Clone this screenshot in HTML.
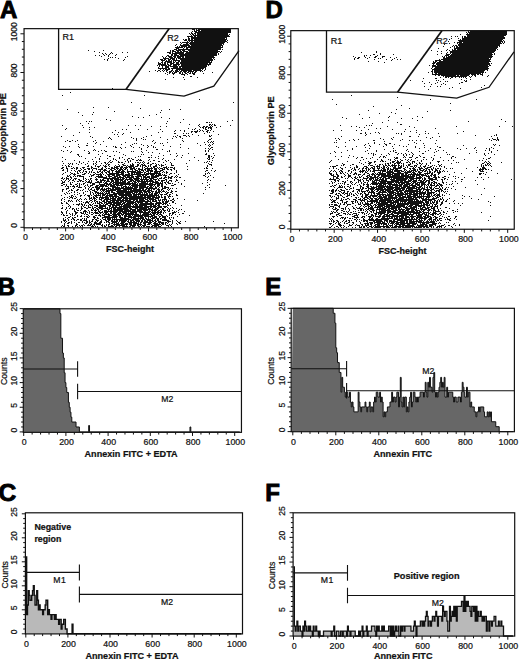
<!DOCTYPE html>
<html><head><meta charset="utf-8"><style>html,body{margin:0;padding:0;background:#fff;width:520px;height:660px;overflow:hidden}svg{display:block}text{stroke:#111;stroke-width:0.22px}</style></head>
<body>
<svg width="520" height="660" viewBox="0 0 520 660" font-family='"Liberation Sans", sans-serif' font-size="8" fill="#111">
<rect width="520" height="660" fill="#fff"/>
<path d="M23.3 431.9 23.7 308.8 59.15 308.8 59.15 308.8 59.99 308.8 59.99 313.58 60.84 313.58 60.84 338.23 62.52 338.23 62.52 353.02 63.37 353.02 63.37 357.95 64.21 357.95 64.21 372.74 65.06 372.74 65.06 382.6 65.9 382.6 65.9 387.53 66.74 387.53 66.74 392.46 68.43 392.46 68.43 402.32 69.28 402.32 69.28 407.25 70.12 407.25 70.12 412.18 70.96 412.18 70.96 417.11 71.81 417.11 71.81 422.04 76.03 422.04 76.03 426.97 79.4 426.97 79.4 431.9 88.69 431.9 88.69 425.49 89.53 425.49 89.53 431.9 189.97 431.9 189.97 426.97 190.81 426.97 190.81 431.9 239.76 431.9 239.76 431.9Z" fill="#676767" stroke="none"/>
<path d="M23.7 308.8 59.15 308.8 59.15 308.8 59.99 308.8 59.99 313.58 60.84 313.58 60.84 338.23 62.52 338.23 62.52 353.02 63.37 353.02 63.37 357.95 64.21 357.95 64.21 372.74 65.06 372.74 65.06 382.6 65.9 382.6 65.9 387.53 66.74 387.53 66.74 392.46 68.43 392.46 68.43 402.32 69.28 402.32 69.28 407.25 70.12 407.25 70.12 412.18 70.96 412.18 70.96 417.11 71.81 417.11 71.81 422.04 76.03 422.04 76.03 426.97 79.4 426.97 79.4 431.9 88.69 431.9 88.69 425.49 89.53 425.49 89.53 431.9 189.97 431.9 189.97 426.97 190.81 426.97 190.81 431.9 239.76 431.9" fill="none" stroke="#111" stroke-width="1.0" stroke-linejoin="miter"/>
<rect x="23.3" y="308.8" width="218.15" height="123.55" fill="none" stroke="#111" stroke-width="1.2"/>
<path d="M23.7 432.35v3.6M32.14 432.35v2.2M40.58 432.35v2.2M49.02 432.35v2.2M57.46 432.35v2.2M65.9 432.35v3.6M74.34 432.35v2.2M82.78 432.35v2.2M91.22 432.35v2.2M99.66 432.35v2.2M108.1 432.35v3.6M116.54 432.35v2.2M124.98 432.35v2.2M133.42 432.35v2.2M141.86 432.35v2.2M150.3 432.35v3.6M158.74 432.35v2.2M167.18 432.35v2.2M175.62 432.35v2.2M184.06 432.35v2.2M192.5 432.35v3.6M200.94 432.35v2.2M209.38 432.35v2.2M217.82 432.35v2.2M226.26 432.35v2.2M234.7 432.35v3.6" stroke="#111" stroke-width="1" fill="none"/>
<text x="24.3" y="444.6" text-anchor="middle" font-size="8.8">0</text>
<text x="66.5" y="444.6" text-anchor="middle" font-size="8.8">200</text>
<text x="108.7" y="444.6" text-anchor="middle" font-size="8.8">400</text>
<text x="150.9" y="444.6" text-anchor="middle" font-size="8.8">600</text>
<text x="193.1" y="444.6" text-anchor="middle" font-size="8.8">800</text>
<text x="235.3" y="444.6" text-anchor="middle" font-size="8.8">1000</text>
<path d="M23.3 431.9h-3.6M23.3 426.97h-2.2M23.3 422.04h-2.2M23.3 417.11h-2.2M23.3 412.18h-2.2M23.3 407.25h-3.6M23.3 402.32h-2.2M23.3 397.39h-2.2M23.3 392.46h-2.2M23.3 387.53h-2.2M23.3 382.6h-3.6M23.3 377.67h-2.2M23.3 372.74h-2.2M23.3 367.81h-2.2M23.3 362.88h-2.2M23.3 357.95h-3.6M23.3 353.02h-2.2M23.3 348.09h-2.2M23.3 343.16h-2.2M23.3 338.23h-2.2M23.3 333.3h-3.6M23.3 328.37h-2.2M23.3 323.44h-2.2M23.3 318.51h-2.2M23.3 313.58h-2.2M23.3 308.65h-3.6" stroke="#111" stroke-width="1" fill="none"/>
<text transform="translate(17.2 430.1) rotate(-90)" text-anchor="middle" font-size="8.5">0</text>
<text transform="translate(17.2 405.45) rotate(-90)" text-anchor="middle" font-size="8.5">5</text>
<text transform="translate(17.2 380.8) rotate(-90)" text-anchor="middle" font-size="8.5">10</text>
<text transform="translate(17.2 356.15) rotate(-90)" text-anchor="middle" font-size="8.5">15</text>
<text transform="translate(17.2 331.5) rotate(-90)" text-anchor="middle" font-size="8.5">20</text>
<text transform="translate(17.2 306.85) rotate(-90)" text-anchor="middle" font-size="8.5">25</text>
<text x="131.07" y="457" text-anchor="middle" font-size="9.1" font-weight="bold">Annexin FITC + EDTA</text>
<text transform="translate(6.7 371.27) rotate(-90)" text-anchor="middle" font-size="8.7">Counts</text>
<text x="-2.2" y="295" font-size="24" font-weight="bold" style="fill:#000;stroke:#000;stroke-width:0.9px">B</text>
<path d="M23.3 369H77.6M77.6 361.2v15.6" stroke="#111" stroke-width="1.1" fill="none"/>
<path d="M77.6 391.5H241.45M77.6 383.7v15.6" stroke="#111" stroke-width="1.1" fill="none"/>
<text x="167.3" y="401.8" text-anchor="middle" font-size="8.7">M2</text>
<path d="M291.2 431.6 292.8 308.3 333.22 308.3 333.22 313.28 334.94 313.28 334.94 323.14 335.8 323.14 335.8 347.79 336.66 347.79 336.66 352.72 337.52 352.72 337.52 362.58 339.24 362.58 339.24 372.44 340.96 372.44 340.96 392.16 341.82 392.16 341.82 377.37 342.68 377.37 342.68 387.23 344.4 387.23 344.4 392.16 345.26 392.16 345.26 397.09 346.12 397.09 346.12 392.16 347.84 392.16 347.84 397.09 349.56 397.09 349.56 392.16 350.42 392.16 350.42 402.02 351.28 402.02 351.28 406.95 352.14 406.95 352.14 402.02 353 402.02 353 406.95 353.86 406.95 353.86 411.88 358.16 411.88 358.16 392.16 359.02 392.16 359.02 402.02 359.88 402.02 359.88 406.95 360.74 406.95 360.74 411.88 361.6 411.88 361.6 406.95 365.04 406.95 365.04 402.02 365.9 402.02 365.9 406.95 366.76 406.95 366.76 411.88 367.62 411.88 367.62 406.95 369.34 406.95 369.34 402.02 370.2 402.02 370.2 411.88 371.06 411.88 371.06 406.95 372.78 406.95 372.78 411.88 373.64 411.88 373.64 402.02 374.5 402.02 374.5 397.09 375.36 397.09 375.36 402.02 376.22 402.02 376.22 392.16 377.94 392.16 377.94 397.09 379.66 397.09 379.66 392.16 380.52 392.16 380.52 402.02 381.38 402.02 381.38 397.09 382.24 397.09 382.24 402.02 383.1 402.02 383.1 416.81 383.96 416.81 383.96 411.88 384.82 411.88 384.82 416.81 385.68 416.81 385.68 411.88 387.4 411.88 387.4 406.95 389.98 406.95 389.98 402.02 391.7 402.02 391.7 392.16 392.56 392.16 392.56 402.02 393.42 402.02 393.42 397.09 395.14 397.09 395.14 402.02 396 402.02 396 397.09 396.86 397.09 396.86 392.16 398.58 392.16 398.58 406.95 399.44 406.95 399.44 397.09 400.3 397.09 400.3 377.37 401.16 377.37 401.16 402.02 402.02 402.02 402.02 406.95 402.88 406.95 402.88 397.09 403.74 397.09 403.74 406.95 404.6 406.95 404.6 397.09 406.32 397.09 406.32 411.88 407.18 411.88 407.18 406.95 408.04 406.95 408.04 411.88 408.9 411.88 408.9 402.02 409.76 402.02 409.76 397.09 410.62 397.09 410.62 392.16 411.48 392.16 411.48 406.95 412.34 406.95 412.34 402.02 413.2 402.02 413.2 392.16 414.92 392.16 414.92 397.09 415.78 397.09 415.78 402.02 416.64 402.02 416.64 397.09 417.5 397.09 417.5 402.02 418.36 402.02 418.36 397.09 420.08 397.09 420.08 392.16 423.52 392.16 423.52 397.09 424.38 397.09 424.38 392.16 425.24 392.16 425.24 382.3 426.1 382.3 426.1 392.16 426.96 392.16 426.96 397.09 427.82 397.09 427.82 382.3 428.68 382.3 428.68 387.23 429.54 387.23 429.54 377.37 430.4 377.37 430.4 387.23 432.12 387.23 432.12 392.16 432.98 392.16 432.98 377.37 433.84 377.37 433.84 372.44 434.7 372.44 434.7 392.16 435.56 392.16 435.56 397.09 436.42 397.09 436.42 392.16 437.28 392.16 437.28 397.09 438.14 397.09 438.14 392.16 439 392.16 439 387.23 439.86 387.23 439.86 382.3 440.72 382.3 440.72 377.37 441.58 377.37 441.58 387.23 442.44 387.23 442.44 382.3 443.3 382.3 443.3 387.23 444.16 387.23 444.16 377.37 445.02 377.37 445.02 397.09 446.74 397.09 446.74 387.23 447.6 387.23 447.6 397.09 448.46 397.09 448.46 392.16 452.76 392.16 452.76 397.09 453.62 397.09 453.62 402.02 454.48 402.02 454.48 397.09 456.2 397.09 456.2 402.02 457.92 402.02 457.92 397.09 460.5 397.09 460.5 402.02 461.36 402.02 461.36 392.16 462.22 392.16 462.22 382.3 463.08 382.3 463.08 387.23 463.94 387.23 463.94 392.16 464.8 392.16 464.8 397.09 466.52 397.09 466.52 387.23 467.38 387.23 467.38 397.09 468.24 397.09 468.24 392.16 469.96 392.16 469.96 406.95 470.82 406.95 470.82 402.02 471.68 402.02 471.68 406.95 474.26 406.95 474.26 411.88 475.98 411.88 475.98 416.81 476.84 416.81 476.84 411.88 478.56 411.88 478.56 406.95 479.42 406.95 479.42 411.88 480.28 411.88 480.28 406.95 483.72 406.95 483.72 411.88 484.58 411.88 484.58 416.81 487.16 416.81 487.16 411.88 488.02 411.88 488.02 416.81 488.88 416.81 488.88 411.88 489.74 411.88 489.74 416.81 490.6 416.81 490.6 411.88 491.46 411.88 491.46 421.74 495.76 421.74 495.76 426.67 499.2 426.67 499.2 431.6 512.96 431.6 512.96 431.6Z" fill="#676767" stroke="none"/>
<path d="M292.8 308.3 333.22 308.3 333.22 313.28 334.94 313.28 334.94 323.14 335.8 323.14 335.8 347.79 336.66 347.79 336.66 352.72 337.52 352.72 337.52 362.58 339.24 362.58 339.24 372.44 340.96 372.44 340.96 392.16 341.82 392.16 341.82 377.37 342.68 377.37 342.68 387.23 344.4 387.23 344.4 392.16 345.26 392.16 345.26 397.09 346.12 397.09 346.12 392.16 347.84 392.16 347.84 397.09 349.56 397.09 349.56 392.16 350.42 392.16 350.42 402.02 351.28 402.02 351.28 406.95 352.14 406.95 352.14 402.02 353 402.02 353 406.95 353.86 406.95 353.86 411.88 358.16 411.88 358.16 392.16 359.02 392.16 359.02 402.02 359.88 402.02 359.88 406.95 360.74 406.95 360.74 411.88 361.6 411.88 361.6 406.95 365.04 406.95 365.04 402.02 365.9 402.02 365.9 406.95 366.76 406.95 366.76 411.88 367.62 411.88 367.62 406.95 369.34 406.95 369.34 402.02 370.2 402.02 370.2 411.88 371.06 411.88 371.06 406.95 372.78 406.95 372.78 411.88 373.64 411.88 373.64 402.02 374.5 402.02 374.5 397.09 375.36 397.09 375.36 402.02 376.22 402.02 376.22 392.16 377.94 392.16 377.94 397.09 379.66 397.09 379.66 392.16 380.52 392.16 380.52 402.02 381.38 402.02 381.38 397.09 382.24 397.09 382.24 402.02 383.1 402.02 383.1 416.81 383.96 416.81 383.96 411.88 384.82 411.88 384.82 416.81 385.68 416.81 385.68 411.88 387.4 411.88 387.4 406.95 389.98 406.95 389.98 402.02 391.7 402.02 391.7 392.16 392.56 392.16 392.56 402.02 393.42 402.02 393.42 397.09 395.14 397.09 395.14 402.02 396 402.02 396 397.09 396.86 397.09 396.86 392.16 398.58 392.16 398.58 406.95 399.44 406.95 399.44 397.09 400.3 397.09 400.3 377.37 401.16 377.37 401.16 402.02 402.02 402.02 402.02 406.95 402.88 406.95 402.88 397.09 403.74 397.09 403.74 406.95 404.6 406.95 404.6 397.09 406.32 397.09 406.32 411.88 407.18 411.88 407.18 406.95 408.04 406.95 408.04 411.88 408.9 411.88 408.9 402.02 409.76 402.02 409.76 397.09 410.62 397.09 410.62 392.16 411.48 392.16 411.48 406.95 412.34 406.95 412.34 402.02 413.2 402.02 413.2 392.16 414.92 392.16 414.92 397.09 415.78 397.09 415.78 402.02 416.64 402.02 416.64 397.09 417.5 397.09 417.5 402.02 418.36 402.02 418.36 397.09 420.08 397.09 420.08 392.16 423.52 392.16 423.52 397.09 424.38 397.09 424.38 392.16 425.24 392.16 425.24 382.3 426.1 382.3 426.1 392.16 426.96 392.16 426.96 397.09 427.82 397.09 427.82 382.3 428.68 382.3 428.68 387.23 429.54 387.23 429.54 377.37 430.4 377.37 430.4 387.23 432.12 387.23 432.12 392.16 432.98 392.16 432.98 377.37 433.84 377.37 433.84 372.44 434.7 372.44 434.7 392.16 435.56 392.16 435.56 397.09 436.42 397.09 436.42 392.16 437.28 392.16 437.28 397.09 438.14 397.09 438.14 392.16 439 392.16 439 387.23 439.86 387.23 439.86 382.3 440.72 382.3 440.72 377.37 441.58 377.37 441.58 387.23 442.44 387.23 442.44 382.3 443.3 382.3 443.3 387.23 444.16 387.23 444.16 377.37 445.02 377.37 445.02 397.09 446.74 397.09 446.74 387.23 447.6 387.23 447.6 397.09 448.46 397.09 448.46 392.16 452.76 392.16 452.76 397.09 453.62 397.09 453.62 402.02 454.48 402.02 454.48 397.09 456.2 397.09 456.2 402.02 457.92 402.02 457.92 397.09 460.5 397.09 460.5 402.02 461.36 402.02 461.36 392.16 462.22 392.16 462.22 382.3 463.08 382.3 463.08 387.23 463.94 387.23 463.94 392.16 464.8 392.16 464.8 397.09 466.52 397.09 466.52 387.23 467.38 387.23 467.38 397.09 468.24 397.09 468.24 392.16 469.96 392.16 469.96 406.95 470.82 406.95 470.82 402.02 471.68 402.02 471.68 406.95 474.26 406.95 474.26 411.88 475.98 411.88 475.98 416.81 476.84 416.81 476.84 411.88 478.56 411.88 478.56 406.95 479.42 406.95 479.42 411.88 480.28 411.88 480.28 406.95 483.72 406.95 483.72 411.88 484.58 411.88 484.58 416.81 487.16 416.81 487.16 411.88 488.02 411.88 488.02 416.81 488.88 416.81 488.88 411.88 489.74 411.88 489.74 416.81 490.6 416.81 490.6 411.88 491.46 411.88 491.46 421.74 495.76 421.74 495.76 426.67 499.2 426.67 499.2 431.6 512.96 431.6" fill="none" stroke="#111" stroke-width="1.0" stroke-linejoin="miter"/>
<rect x="291.2" y="308.3" width="223.2" height="123.4" fill="none" stroke="#111" stroke-width="1.2"/>
<path d="M292.8 431.7v3.6M301.4 431.7v2.2M310 431.7v2.2M318.6 431.7v2.2M327.2 431.7v2.2M335.8 431.7v3.6M344.4 431.7v2.2M353 431.7v2.2M361.6 431.7v2.2M370.2 431.7v2.2M378.8 431.7v3.6M387.4 431.7v2.2M396 431.7v2.2M404.6 431.7v2.2M413.2 431.7v2.2M421.8 431.7v3.6M430.4 431.7v2.2M439 431.7v2.2M447.6 431.7v2.2M456.2 431.7v2.2M464.8 431.7v3.6M473.4 431.7v2.2M482 431.7v2.2M490.6 431.7v2.2M499.2 431.7v2.2M507.8 431.7v3.6" stroke="#111" stroke-width="1" fill="none"/>
<text x="293.4" y="444.6" text-anchor="middle" font-size="8.8">0</text>
<text x="336.4" y="444.6" text-anchor="middle" font-size="8.8">200</text>
<text x="379.4" y="444.6" text-anchor="middle" font-size="8.8">400</text>
<text x="422.4" y="444.6" text-anchor="middle" font-size="8.8">600</text>
<text x="465.4" y="444.6" text-anchor="middle" font-size="8.8">800</text>
<text x="508.4" y="444.6" text-anchor="middle" font-size="8.8">1000</text>
<path d="M291.2 431.6h-3.6M291.2 426.67h-2.2M291.2 421.74h-2.2M291.2 416.81h-2.2M291.2 411.88h-2.2M291.2 406.95h-3.6M291.2 402.02h-2.2M291.2 397.09h-2.2M291.2 392.16h-2.2M291.2 387.23h-2.2M291.2 382.3h-3.6M291.2 377.37h-2.2M291.2 372.44h-2.2M291.2 367.51h-2.2M291.2 362.58h-2.2M291.2 357.65h-3.6M291.2 352.72h-2.2M291.2 347.79h-2.2M291.2 342.86h-2.2M291.2 337.93h-2.2M291.2 333h-3.6M291.2 328.07h-2.2M291.2 323.14h-2.2M291.2 318.21h-2.2M291.2 313.28h-2.2M291.2 308.35h-3.6" stroke="#111" stroke-width="1" fill="none"/>
<text transform="translate(284.8 429.8) rotate(-90)" text-anchor="middle" font-size="8.5">0</text>
<text transform="translate(284.8 405.15) rotate(-90)" text-anchor="middle" font-size="8.5">5</text>
<text transform="translate(284.8 380.5) rotate(-90)" text-anchor="middle" font-size="8.5">10</text>
<text transform="translate(284.8 355.85) rotate(-90)" text-anchor="middle" font-size="8.5">15</text>
<text transform="translate(284.8 331.2) rotate(-90)" text-anchor="middle" font-size="8.5">20</text>
<text transform="translate(284.8 306.55) rotate(-90)" text-anchor="middle" font-size="8.5">25</text>
<text x="402.8" y="457" text-anchor="middle" font-size="9.1" font-weight="bold">Annexin FITC</text>
<text transform="translate(274.2 370.98) rotate(-90)" text-anchor="middle" font-size="8.7">Counts</text>
<text x="265.3" y="295.2" font-size="24" font-weight="bold" style="fill:#000;stroke:#000;stroke-width:0.9px">E</text>
<path d="M291.2 368.8H346.6M346.6 361v15.6" stroke="#111" stroke-width="1.1" fill="none"/>
<path d="M346.6 390.8H514.4M346.6 383v15.6" stroke="#111" stroke-width="1.1" fill="none"/>
<text x="428.3" y="374.4" text-anchor="middle" font-size="8.7">M2</text>
<path d="M25.4 633.8 25.8 557 26.64 557 26.64 614.6 27.48 614.6 27.48 605 28.33 605 28.33 590.6 29.17 590.6 29.17 595.4 30.01 595.4 30.01 600.2 31.69 600.2 31.69 595.4 32.54 595.4 32.54 590.6 33.38 590.6 33.38 585.8 34.22 585.8 34.22 595.4 35.06 595.4 35.06 605 36.75 605 36.75 590.6 37.59 590.6 37.59 600.2 38.43 600.2 38.43 609.8 39.27 609.8 39.27 605 40.11 605 40.11 609.8 42.64 609.8 42.64 614.6 43.48 614.6 43.48 609.8 45.17 609.8 45.17 605 46.01 605 46.01 600.2 47.69 600.2 47.69 614.6 48.53 614.6 48.53 609.8 49.38 609.8 49.38 614.6 51.06 614.6 51.06 619.4 51.9 619.4 51.9 614.6 54.43 614.6 54.43 619.4 55.27 619.4 55.27 614.6 56.11 614.6 56.11 619.4 58.64 619.4 58.64 624.2 59.48 624.2 59.48 619.4 61.16 619.4 61.16 629 62.01 629 62.01 624.2 63.69 624.2 63.69 619.4 65.37 619.4 65.37 629 67.06 629 67.06 633.8 72.11 633.8 72.11 624.2 72.95 624.2 72.95 633.8 241.35 633.8 241.35 633.8Z" fill="#b9b9b9" stroke="none"/>
<path d="M25.8 557 26.64 557 26.64 614.6 27.48 614.6 27.48 605 28.33 605 28.33 590.6 29.17 590.6 29.17 595.4 30.01 595.4 30.01 600.2 31.69 600.2 31.69 595.4 32.54 595.4 32.54 590.6 33.38 590.6 33.38 585.8 34.22 585.8 34.22 595.4 35.06 595.4 35.06 605 36.75 605 36.75 590.6 37.59 590.6 37.59 600.2 38.43 600.2 38.43 609.8 39.27 609.8 39.27 605 40.11 605 40.11 609.8 42.64 609.8 42.64 614.6 43.48 614.6 43.48 609.8 45.17 609.8 45.17 605 46.01 605 46.01 600.2 47.69 600.2 47.69 614.6 48.53 614.6 48.53 609.8 49.38 609.8 49.38 614.6 51.06 614.6 51.06 619.4 51.9 619.4 51.9 614.6 54.43 614.6 54.43 619.4 55.27 619.4 55.27 614.6 56.11 614.6 56.11 619.4 58.64 619.4 58.64 624.2 59.48 624.2 59.48 619.4 61.16 619.4 61.16 629 62.01 629 62.01 624.2 63.69 624.2 63.69 619.4 65.37 619.4 65.37 629 67.06 629 67.06 633.8 72.11 633.8 72.11 624.2 72.95 624.2 72.95 633.8 241.35 633.8" fill="none" stroke="#111" stroke-width="1.4" stroke-linejoin="miter"/>
<rect x="25.4" y="512.8" width="217.1" height="121.1" fill="none" stroke="#111" stroke-width="1.2"/>
<path d="M25.8 633.9v3.6M34.22 633.9v2.2M42.64 633.9v2.2M51.06 633.9v2.2M59.48 633.9v2.2M67.9 633.9v3.6M76.32 633.9v2.2M84.74 633.9v2.2M93.16 633.9v2.2M101.58 633.9v2.2M110 633.9v3.6M118.42 633.9v2.2M126.84 633.9v2.2M135.26 633.9v2.2M143.68 633.9v2.2M152.1 633.9v3.6M160.52 633.9v2.2M168.94 633.9v2.2M177.36 633.9v2.2M185.78 633.9v2.2M194.2 633.9v3.6M202.62 633.9v2.2M211.04 633.9v2.2M219.46 633.9v2.2M227.88 633.9v2.2M236.3 633.9v3.6" stroke="#111" stroke-width="1" fill="none"/>
<text x="26.4" y="647" text-anchor="middle" font-size="8.8">0</text>
<text x="68.5" y="647" text-anchor="middle" font-size="8.8">200</text>
<text x="110.6" y="647" text-anchor="middle" font-size="8.8">400</text>
<text x="152.7" y="647" text-anchor="middle" font-size="8.8">600</text>
<text x="194.8" y="647" text-anchor="middle" font-size="8.8">800</text>
<text x="236.9" y="647" text-anchor="middle" font-size="8.8">1000</text>
<path d="M25.4 633.8h-3.6M25.4 629h-2.2M25.4 624.2h-2.2M25.4 619.4h-2.2M25.4 614.6h-2.2M25.4 609.8h-3.6M25.4 605h-2.2M25.4 600.2h-2.2M25.4 595.4h-2.2M25.4 590.6h-2.2M25.4 585.8h-3.6M25.4 581h-2.2M25.4 576.2h-2.2M25.4 571.4h-2.2M25.4 566.6h-2.2M25.4 561.8h-3.6M25.4 557h-2.2M25.4 552.2h-2.2M25.4 547.4h-2.2M25.4 542.6h-2.2M25.4 537.8h-3.6M25.4 533h-2.2M25.4 528.2h-2.2M25.4 523.4h-2.2M25.4 518.6h-2.2M25.4 513.8h-3.6" stroke="#111" stroke-width="1" fill="none"/>
<text transform="translate(17.2 632) rotate(-90)" text-anchor="middle" font-size="8.5">0</text>
<text transform="translate(17.2 608) rotate(-90)" text-anchor="middle" font-size="8.5">5</text>
<text transform="translate(17.2 584) rotate(-90)" text-anchor="middle" font-size="8.5">10</text>
<text transform="translate(17.2 560) rotate(-90)" text-anchor="middle" font-size="8.5">15</text>
<text transform="translate(17.2 536) rotate(-90)" text-anchor="middle" font-size="8.5">20</text>
<text transform="translate(17.2 512) rotate(-90)" text-anchor="middle" font-size="8.5">25</text>
<text x="131.95" y="659" text-anchor="middle" font-size="9.1" font-weight="bold">Annexin FITC + EDTA</text>
<text transform="translate(7.6 574.8) rotate(-90)" text-anchor="middle" font-size="8.7">Counts</text>
<text x="-1.4" y="501.2" font-size="24.5" font-weight="bold" style="fill:#000;stroke:#000;stroke-width:0.9px">C</text>
<path d="M25.4 572.4H79.4M79.4 564.4v16" stroke="#111" stroke-width="1.1" fill="none"/>
<path d="M79.4 594.4H242.5M79.4 586.4v16" stroke="#111" stroke-width="1.1" fill="none"/>
<text x="59.8" y="583.1" text-anchor="middle" font-size="8.7" letter-spacing="0.6">M1</text>
<text x="167.0" y="604.6" text-anchor="middle" font-size="8.7">M2</text>
<text x="34.4" y="530.3" font-size="8.8" font-weight="bold">Negative</text>
<text x="34.4" y="541.5" font-size="8.8" font-weight="bold">region</text>
<path d="M293.1 636 293.5 566.98 294.36 566.98 294.36 626.14 295.21 626.14 295.21 631.07 296.07 631.07 296.07 626.14 296.93 626.14 296.93 621.21 297.79 621.21 297.79 631.07 298.64 631.07 298.64 626.14 300.36 626.14 300.36 631.07 302.07 631.07 302.07 636 302.93 636 302.93 626.14 303.79 626.14 303.79 631.07 304.64 631.07 304.64 621.21 305.5 621.21 305.5 626.14 306.36 626.14 306.36 631.07 308.07 631.07 308.07 626.14 308.93 626.14 308.93 631.07 309.79 631.07 309.79 626.14 310.64 626.14 310.64 631.07 312.36 631.07 312.36 636 313.22 636 313.22 626.14 314.07 626.14 314.07 631.07 315.79 631.07 315.79 626.14 316.64 626.14 316.64 631.07 318.36 631.07 318.36 636 319.22 636 319.22 631.07 320.07 631.07 320.07 636 323.5 636 323.5 631.07 331.22 631.07 331.22 636 332.07 636 332.07 631.07 333.79 631.07 333.79 626.14 334.65 626.14 334.65 636 336.36 636 336.36 631.07 338.93 631.07 338.93 636 340.65 636 340.65 631.07 342.36 631.07 342.36 636 343.22 636 343.22 631.07 346.65 631.07 346.65 636 347.5 636 347.5 626.14 348.36 626.14 348.36 631.07 350.08 631.07 350.08 636 350.93 636 350.93 631.07 355.22 631.07 355.22 636 358.65 636 358.65 631.07 359.5 631.07 359.5 636 360.36 636 360.36 631.07 362.08 631.07 362.08 626.14 362.93 626.14 362.93 636 363.79 636 363.79 631.07 366.36 631.07 366.36 626.14 367.22 626.14 367.22 636 368.08 636 368.08 631.07 371.51 631.07 371.51 626.14 374.93 626.14 374.93 631.07 375.79 631.07 375.79 636 376.65 636 376.65 626.14 377.51 626.14 377.51 631.07 378.36 631.07 378.36 626.14 379.22 626.14 379.22 631.07 381.79 631.07 381.79 626.14 382.65 626.14 382.65 631.07 383.51 631.07 383.51 626.14 384.36 626.14 384.36 631.07 388.65 631.07 388.65 626.14 390.36 626.14 390.36 636 391.22 636 391.22 626.14 392.08 626.14 392.08 636 392.94 636 392.94 626.14 393.79 626.14 393.79 636 394.65 636 394.65 631.07 395.51 631.07 395.51 626.14 396.36 626.14 396.36 631.07 398.08 631.07 398.08 626.14 398.94 626.14 398.94 636 400.65 636 400.65 626.14 401.51 626.14 401.51 631.07 402.36 631.07 402.36 626.14 404.08 626.14 404.08 631.07 404.94 631.07 404.94 626.14 410.94 626.14 410.94 631.07 413.51 631.07 413.51 626.14 414.37 626.14 414.37 621.21 415.22 621.21 415.22 626.14 416.08 626.14 416.08 636 416.94 636 416.94 626.14 420.37 626.14 420.37 621.21 422.08 621.21 422.08 626.14 422.94 626.14 422.94 621.21 423.79 621.21 423.79 626.14 424.65 626.14 424.65 621.21 425.51 621.21 425.51 616.28 426.37 616.28 426.37 611.35 427.22 611.35 427.22 616.28 428.08 616.28 428.08 626.14 428.94 626.14 428.94 621.21 430.65 621.21 430.65 626.14 431.51 626.14 431.51 621.21 432.37 621.21 432.37 616.28 434.08 616.28 434.08 621.21 434.94 621.21 434.94 616.28 435.8 616.28 435.8 611.35 436.65 611.35 436.65 616.28 437.51 616.28 437.51 626.14 438.37 626.14 438.37 616.28 441.8 616.28 441.8 621.21 442.65 621.21 442.65 606.42 443.51 606.42 443.51 611.35 444.37 611.35 444.37 616.28 445.22 616.28 445.22 611.35 446.94 611.35 446.94 621.21 447.8 621.21 447.8 631.07 449.51 631.07 449.51 606.42 450.37 606.42 450.37 621.21 451.22 621.21 451.22 616.28 452.08 616.28 452.08 611.35 452.94 611.35 452.94 616.28 453.8 616.28 453.8 606.42 454.65 606.42 454.65 616.28 455.51 616.28 455.51 606.42 456.37 606.42 456.37 621.21 457.23 621.21 457.23 606.42 461.51 606.42 461.51 601.49 463.23 601.49 463.23 611.35 464.08 611.35 464.08 596.56 464.94 596.56 464.94 611.35 465.8 611.35 465.8 601.49 466.65 601.49 466.65 606.42 467.51 606.42 467.51 601.49 468.37 601.49 468.37 606.42 470.08 606.42 470.08 611.35 470.94 611.35 470.94 616.28 471.8 616.28 471.8 606.42 473.51 606.42 473.51 611.35 474.37 611.35 474.37 606.42 475.23 606.42 475.23 621.21 476.08 621.21 476.08 606.42 476.94 606.42 476.94 621.21 477.8 621.21 477.8 611.35 478.66 611.35 478.66 616.28 480.37 616.28 480.37 611.35 481.23 611.35 481.23 616.28 482.08 616.28 482.08 621.21 482.94 621.21 482.94 616.28 483.8 616.28 483.8 621.21 484.66 621.21 484.66 616.28 486.37 616.28 486.37 631.07 487.23 631.07 487.23 621.21 488.94 621.21 488.94 631.07 489.8 631.07 489.8 621.21 491.51 621.21 491.51 626.14 492.37 626.14 492.37 621.21 494.08 621.21 494.08 616.28 495.8 616.28 495.8 626.14 498.37 626.14 498.37 621.21 499.23 621.21 499.23 626.14 500.94 626.14 500.94 621.21 501.8 621.21 501.8 626.14 503.51 626.14 503.51 636 512.94 636 512.94 636Z" fill="#b9b9b9" stroke="none"/>
<path d="M293.5 566.98 294.36 566.98 294.36 626.14 295.21 626.14 295.21 631.07 296.07 631.07 296.07 626.14 296.93 626.14 296.93 621.21 297.79 621.21 297.79 631.07 298.64 631.07 298.64 626.14 300.36 626.14 300.36 631.07 302.07 631.07 302.07 636 302.93 636 302.93 626.14 303.79 626.14 303.79 631.07 304.64 631.07 304.64 621.21 305.5 621.21 305.5 626.14 306.36 626.14 306.36 631.07 308.07 631.07 308.07 626.14 308.93 626.14 308.93 631.07 309.79 631.07 309.79 626.14 310.64 626.14 310.64 631.07 312.36 631.07 312.36 636 313.22 636 313.22 626.14 314.07 626.14 314.07 631.07 315.79 631.07 315.79 626.14 316.64 626.14 316.64 631.07 318.36 631.07 318.36 636 319.22 636 319.22 631.07 320.07 631.07 320.07 636 323.5 636 323.5 631.07 331.22 631.07 331.22 636 332.07 636 332.07 631.07 333.79 631.07 333.79 626.14 334.65 626.14 334.65 636 336.36 636 336.36 631.07 338.93 631.07 338.93 636 340.65 636 340.65 631.07 342.36 631.07 342.36 636 343.22 636 343.22 631.07 346.65 631.07 346.65 636 347.5 636 347.5 626.14 348.36 626.14 348.36 631.07 350.08 631.07 350.08 636 350.93 636 350.93 631.07 355.22 631.07 355.22 636 358.65 636 358.65 631.07 359.5 631.07 359.5 636 360.36 636 360.36 631.07 362.08 631.07 362.08 626.14 362.93 626.14 362.93 636 363.79 636 363.79 631.07 366.36 631.07 366.36 626.14 367.22 626.14 367.22 636 368.08 636 368.08 631.07 371.51 631.07 371.51 626.14 374.93 626.14 374.93 631.07 375.79 631.07 375.79 636 376.65 636 376.65 626.14 377.51 626.14 377.51 631.07 378.36 631.07 378.36 626.14 379.22 626.14 379.22 631.07 381.79 631.07 381.79 626.14 382.65 626.14 382.65 631.07 383.51 631.07 383.51 626.14 384.36 626.14 384.36 631.07 388.65 631.07 388.65 626.14 390.36 626.14 390.36 636 391.22 636 391.22 626.14 392.08 626.14 392.08 636 392.94 636 392.94 626.14 393.79 626.14 393.79 636 394.65 636 394.65 631.07 395.51 631.07 395.51 626.14 396.36 626.14 396.36 631.07 398.08 631.07 398.08 626.14 398.94 626.14 398.94 636 400.65 636 400.65 626.14 401.51 626.14 401.51 631.07 402.36 631.07 402.36 626.14 404.08 626.14 404.08 631.07 404.94 631.07 404.94 626.14 410.94 626.14 410.94 631.07 413.51 631.07 413.51 626.14 414.37 626.14 414.37 621.21 415.22 621.21 415.22 626.14 416.08 626.14 416.08 636 416.94 636 416.94 626.14 420.37 626.14 420.37 621.21 422.08 621.21 422.08 626.14 422.94 626.14 422.94 621.21 423.79 621.21 423.79 626.14 424.65 626.14 424.65 621.21 425.51 621.21 425.51 616.28 426.37 616.28 426.37 611.35 427.22 611.35 427.22 616.28 428.08 616.28 428.08 626.14 428.94 626.14 428.94 621.21 430.65 621.21 430.65 626.14 431.51 626.14 431.51 621.21 432.37 621.21 432.37 616.28 434.08 616.28 434.08 621.21 434.94 621.21 434.94 616.28 435.8 616.28 435.8 611.35 436.65 611.35 436.65 616.28 437.51 616.28 437.51 626.14 438.37 626.14 438.37 616.28 441.8 616.28 441.8 621.21 442.65 621.21 442.65 606.42 443.51 606.42 443.51 611.35 444.37 611.35 444.37 616.28 445.22 616.28 445.22 611.35 446.94 611.35 446.94 621.21 447.8 621.21 447.8 631.07 449.51 631.07 449.51 606.42 450.37 606.42 450.37 621.21 451.22 621.21 451.22 616.28 452.08 616.28 452.08 611.35 452.94 611.35 452.94 616.28 453.8 616.28 453.8 606.42 454.65 606.42 454.65 616.28 455.51 616.28 455.51 606.42 456.37 606.42 456.37 621.21 457.23 621.21 457.23 606.42 461.51 606.42 461.51 601.49 463.23 601.49 463.23 611.35 464.08 611.35 464.08 596.56 464.94 596.56 464.94 611.35 465.8 611.35 465.8 601.49 466.65 601.49 466.65 606.42 467.51 606.42 467.51 601.49 468.37 601.49 468.37 606.42 470.08 606.42 470.08 611.35 470.94 611.35 470.94 616.28 471.8 616.28 471.8 606.42 473.51 606.42 473.51 611.35 474.37 611.35 474.37 606.42 475.23 606.42 475.23 621.21 476.08 621.21 476.08 606.42 476.94 606.42 476.94 621.21 477.8 621.21 477.8 611.35 478.66 611.35 478.66 616.28 480.37 616.28 480.37 611.35 481.23 611.35 481.23 616.28 482.08 616.28 482.08 621.21 482.94 621.21 482.94 616.28 483.8 616.28 483.8 621.21 484.66 621.21 484.66 616.28 486.37 616.28 486.37 631.07 487.23 631.07 487.23 621.21 488.94 621.21 488.94 631.07 489.8 631.07 489.8 621.21 491.51 621.21 491.51 626.14 492.37 626.14 492.37 621.21 494.08 621.21 494.08 616.28 495.8 616.28 495.8 626.14 498.37 626.14 498.37 621.21 499.23 621.21 499.23 626.14 500.94 626.14 500.94 621.21 501.8 621.21 501.8 626.14 503.51 626.14 503.51 636 512.94 636" fill="none" stroke="#111" stroke-width="1.3" stroke-linejoin="miter"/>
<rect x="293.1" y="512.8" width="221.6" height="123.3" fill="none" stroke="#111" stroke-width="1.2"/>
<path d="M293.5 636.1v3.6M302.07 636.1v2.2M310.64 636.1v2.2M319.22 636.1v2.2M327.79 636.1v2.2M336.36 636.1v3.6M344.93 636.1v2.2M353.5 636.1v2.2M362.08 636.1v2.2M370.65 636.1v2.2M379.22 636.1v3.6M387.79 636.1v2.2M396.36 636.1v2.2M404.94 636.1v2.2M413.51 636.1v2.2M422.08 636.1v3.6M430.65 636.1v2.2M439.22 636.1v2.2M447.8 636.1v2.2M456.37 636.1v2.2M464.94 636.1v3.6M473.51 636.1v2.2M482.08 636.1v2.2M490.66 636.1v2.2M499.23 636.1v2.2M507.8 636.1v3.6" stroke="#111" stroke-width="1" fill="none"/>
<text x="294.1" y="649.3" text-anchor="middle" font-size="8.8">0</text>
<text x="336.96" y="649.3" text-anchor="middle" font-size="8.8">200</text>
<text x="379.82" y="649.3" text-anchor="middle" font-size="8.8">400</text>
<text x="422.68" y="649.3" text-anchor="middle" font-size="8.8">600</text>
<text x="465.54" y="649.3" text-anchor="middle" font-size="8.8">800</text>
<text x="508.4" y="649.3" text-anchor="middle" font-size="8.8">1000</text>
<path d="M293.1 636h-3.6M293.1 631.07h-2.2M293.1 626.14h-2.2M293.1 621.21h-2.2M293.1 616.28h-2.2M293.1 611.35h-3.6M293.1 606.42h-2.2M293.1 601.49h-2.2M293.1 596.56h-2.2M293.1 591.63h-2.2M293.1 586.7h-3.6M293.1 581.77h-2.2M293.1 576.84h-2.2M293.1 571.91h-2.2M293.1 566.98h-2.2M293.1 562.05h-3.6M293.1 557.12h-2.2M293.1 552.19h-2.2M293.1 547.26h-2.2M293.1 542.33h-2.2M293.1 537.4h-3.6M293.1 532.47h-2.2M293.1 527.54h-2.2M293.1 522.61h-2.2M293.1 517.68h-2.2M293.1 512.75h-3.6" stroke="#111" stroke-width="1" fill="none"/>
<text transform="translate(284.8 634.2) rotate(-90)" text-anchor="middle" font-size="8.5">0</text>
<text transform="translate(284.8 609.55) rotate(-90)" text-anchor="middle" font-size="8.5">5</text>
<text transform="translate(284.8 584.9) rotate(-90)" text-anchor="middle" font-size="8.5">10</text>
<text transform="translate(284.8 560.25) rotate(-90)" text-anchor="middle" font-size="8.5">15</text>
<text transform="translate(284.8 535.6) rotate(-90)" text-anchor="middle" font-size="8.5">20</text>
<text transform="translate(284.8 510.95) rotate(-90)" text-anchor="middle" font-size="8.5">25</text>
<text x="403.2" y="659" text-anchor="middle" font-size="9.1" font-weight="bold">Annexin FITC</text>
<text transform="translate(274.9 575.38) rotate(-90)" text-anchor="middle" font-size="8.7">Counts</text>
<text x="265.2" y="500.6" font-size="24" font-weight="bold" style="fill:#000;stroke:#000;stroke-width:0.9px">F</text>
<path d="M293.1 572.9H347.5M347.5 565.1v15.6" stroke="#111" stroke-width="1.1" fill="none"/>
<path d="M347.5 595.5H514.7M347.5 587.7v15.6" stroke="#111" stroke-width="1.1" fill="none"/>
<text x="327.3" y="583.1" text-anchor="middle" font-size="8.7" letter-spacing="0.6">M1</text>
<text x="437.8" y="605.8" text-anchor="middle" font-size="8.7">M2</text>
<text x="426.6" y="578.8" text-anchor="middle" font-size="9.2" font-weight="bold">Positive region</text>
<path d="M192 29h3v1h-3zM196 29h1v1h-1zM198 29h33v1h-33zM194 30h1v1h-1zM196 30h4v1h-4zM201 30h30v1h-30zM192 31h1v1h-1zM194 31h3v1h-3zM198 31h33v1h-33zM191 32h1v1h-1zM195 32h36v1h-36zM189 33h1v1h-1zM191 33h2v1h-2zM194 33h2v1h-2zM197 33h31v1h-31zM190 34h1v1h-1zM192 34h2v1h-2zM195 34h1v1h-1zM197 34h31v1h-31zM229 34h1v1h-1zM191 35h1v1h-1zM193 35h36v1h-36zM187 36h6v1h-6zM194 36h2v1h-2zM197 36h33v1h-33zM188 37h1v1h-1zM191 37h36v1h-36zM188 38h2v1h-2zM191 38h34v1h-34zM226 38h1v1h-1zM183 39h1v1h-1zM185 39h2v1h-2zM188 39h2v1h-2zM191 39h2v1h-2zM194 39h33v1h-33zM184 40h3v1h-3zM188 40h38v1h-38zM227 40h1v1h-1zM187 41h1v1h-1zM189 41h1v1h-1zM191 41h2v1h-2zM194 41h33v1h-33zM180 42h1v1h-1zM182 42h7v1h-7zM190 42h35v1h-35zM227 42h1v1h-1zM181 43h1v1h-1zM186 43h2v1h-2zM189 43h35v1h-35zM176 44h1v1h-1zM180 44h1v1h-1zM183 44h6v1h-6zM190 44h32v1h-32zM223 44h1v1h-1zM175 45h1v1h-1zM180 45h10v1h-10zM191 45h32v1h-32zM177 46h1v1h-1zM179 46h1v1h-1zM181 46h6v1h-6zM188 46h33v1h-33zM222 46h1v1h-1zM175 47h8v1h-8zM184 47h1v1h-1zM186 47h37v1h-37zM176 48h3v1h-3zM183 48h1v1h-1zM186 48h2v1h-2zM190 48h31v1h-31zM174 49h3v1h-3zM178 49h43v1h-43zM222 49h1v1h-1zM88 50h1v1h-1zM103 50h1v1h-1zM170 50h1v1h-1zM172 50h2v1h-2zM176 50h5v1h-5zM182 50h3v1h-3zM188 50h30v1h-30zM94 51h1v1h-1zM170 51h1v1h-1zM172 51h4v1h-4zM177 51h2v1h-2zM180 51h2v1h-2zM183 51h5v1h-5zM189 51h31v1h-31zM221 51h1v1h-1zM99 52h1v1h-1zM111 52h1v1h-1zM122 52h1v1h-1zM127 52h1v1h-1zM167 52h4v1h-4zM172 52h1v1h-1zM175 52h9v1h-9zM186 52h32v1h-32zM220 52h1v1h-1zM102 53h1v1h-1zM105 53h1v1h-1zM110 53h1v1h-1zM112 53h1v1h-1zM169 53h2v1h-2zM172 53h12v1h-12zM185 53h32v1h-32zM218 53h1v1h-1zM103 54h1v1h-1zM106 54h1v1h-1zM109 54h1v1h-1zM116 54h1v1h-1zM171 54h2v1h-2zM174 54h3v1h-3zM179 54h38v1h-38zM218 54h1v1h-1zM95 55h1v1h-1zM99 55h1v1h-1zM104 55h1v1h-1zM108 55h1v1h-1zM115 55h1v1h-1zM167 55h2v1h-2zM171 55h2v1h-2zM174 55h5v1h-5zM180 55h37v1h-37zM101 56h1v1h-1zM108 56h1v1h-1zM127 56h1v1h-1zM162 56h1v1h-1zM166 56h1v1h-1zM168 56h4v1h-4zM173 56h3v1h-3zM177 56h7v1h-7zM185 56h29v1h-29zM110 57h1v1h-1zM112 57h1v1h-1zM115 57h1v1h-1zM125 57h1v1h-1zM163 57h1v1h-1zM165 57h1v1h-1zM169 57h4v1h-4zM174 57h2v1h-2zM177 57h4v1h-4zM182 57h2v1h-2zM185 57h30v1h-30zM108 58h1v1h-1zM118 58h1v1h-1zM163 58h6v1h-6zM170 58h5v1h-5zM176 58h1v1h-1zM178 58h34v1h-34zM213 58h1v1h-1zM104 59h1v1h-1zM107 59h1v1h-1zM124 59h1v1h-1zM160 59h3v1h-3zM164 59h2v1h-2zM168 59h3v1h-3zM172 59h3v1h-3zM176 59h1v1h-1zM180 59h33v1h-33zM214 59h1v1h-1zM107 60h1v1h-1zM123 60h1v1h-1zM161 60h4v1h-4zM166 60h1v1h-1zM168 60h2v1h-2zM171 60h1v1h-1zM173 60h7v1h-7zM181 60h32v1h-32zM162 61h1v1h-1zM165 61h7v1h-7zM173 61h1v1h-1zM175 61h1v1h-1zM178 61h2v1h-2zM181 61h29v1h-29zM211 61h1v1h-1zM158 62h1v1h-1zM161 62h2v1h-2zM164 62h2v1h-2zM167 62h5v1h-5zM173 62h2v1h-2zM176 62h3v1h-3zM180 62h32v1h-32zM158 63h3v1h-3zM162 63h1v1h-1zM164 63h2v1h-2zM167 63h1v1h-1zM170 63h4v1h-4zM176 63h3v1h-3zM180 63h28v1h-28zM209 63h2v1h-2zM158 64h8v1h-8zM167 64h2v1h-2zM170 64h2v1h-2zM173 64h7v1h-7zM181 64h30v1h-30zM157 65h1v1h-1zM159 65h1v1h-1zM161 65h6v1h-6zM168 65h3v1h-3zM173 65h4v1h-4zM178 65h1v1h-1zM181 65h26v1h-26zM208 65h1v1h-1zM159 66h1v1h-1zM162 66h1v1h-1zM165 66h4v1h-4zM170 66h8v1h-8zM179 66h28v1h-28zM158 67h1v1h-1zM162 67h1v1h-1zM165 67h4v1h-4zM173 67h5v1h-5zM179 67h2v1h-2zM182 67h24v1h-24zM158 68h9v1h-9zM168 68h2v1h-2zM171 68h33v1h-33zM205 68h1v1h-1zM160 69h1v1h-1zM163 69h1v1h-1zM165 69h5v1h-5zM172 69h1v1h-1zM176 69h25v1h-25zM202 69h1v1h-1zM205 69h1v1h-1zM155 70h1v1h-1zM158 70h2v1h-2zM162 70h1v1h-1zM164 70h1v1h-1zM166 70h2v1h-2zM171 70h2v1h-2zM175 70h3v1h-3zM179 70h1v1h-1zM181 70h11v1h-11zM193 70h9v1h-9zM204 70h1v1h-1zM149 71h1v1h-1zM157 71h1v1h-1zM160 71h1v1h-1zM163 71h1v1h-1zM166 71h1v1h-1zM169 71h3v1h-3zM173 71h1v1h-1zM175 71h4v1h-4zM180 71h2v1h-2zM183 71h4v1h-4zM188 71h6v1h-6zM195 71h2v1h-2zM200 71h1v1h-1zM202 71h1v1h-1zM167 72h1v1h-1zM169 72h2v1h-2zM172 72h1v1h-1zM174 72h3v1h-3zM179 72h2v1h-2zM182 72h1v1h-1zM184 72h2v1h-2zM187 72h2v1h-2zM190 72h1v1h-1zM192 72h1v1h-1zM194 72h2v1h-2zM212 72h1v1h-1zM165 73h1v1h-1zM169 73h1v1h-1zM172 73h3v1h-3zM179 73h2v1h-2zM182 73h1v1h-1zM185 73h2v1h-2zM189 73h2v1h-2zM192 73h3v1h-3zM203 73h1v1h-1zM167 74h1v1h-1zM173 74h1v1h-1zM181 74h4v1h-4zM187 74h1v1h-1zM193 74h2v1h-2zM184 75h1v1h-1zM190 76h2v1h-2zM173 77h1v1h-1zM183 77h1v1h-1zM197 77h1v1h-1zM165 79h1v1h-1zM184 79h1v1h-1zM112 88h1v1h-1zM70 92h1v1h-1zM62 95h1v1h-1zM144 95h1v1h-1zM199 99h1v1h-1zM131 102h1v1h-1zM233 102h1v1h-1zM93 107h1v1h-1zM108 107h1v1h-1zM140 108h1v1h-1zM67 109h1v1h-1zM169 109h1v1h-1zM180 109h1v1h-1zM161 110h1v1h-1zM114 111h1v1h-1zM78 112h1v1h-1zM93 112h1v1h-1zM160 112h1v1h-1zM92 114h1v1h-1zM156 114h1v1h-1zM82 115h1v1h-1zM149 115h1v1h-1zM132 116h1v1h-1zM138 117h1v1h-1zM143 117h1v1h-1zM161 117h1v1h-1zM169 118h1v1h-1zM106 119h1v1h-1zM183 119h1v1h-1zM110 120h1v1h-1zM232 120h1v1h-1zM86 121h1v1h-1zM89 121h1v1h-1zM91 121h1v1h-1zM167 121h1v1h-1zM227 121h1v1h-1zM180 122h1v1h-1zM206 122h2v1h-2zM209 122h1v1h-1zM211 122h1v1h-1zM80 123h1v1h-1zM88 123h1v1h-1zM166 123h1v1h-1zM189 124h1v1h-1zM199 124h1v1h-1zM209 124h2v1h-2zM212 124h1v1h-1zM214 124h1v1h-1zM62 125h1v1h-1zM82 125h1v1h-1zM128 125h1v1h-1zM135 125h1v1h-1zM140 125h1v1h-1zM198 125h1v1h-1zM209 125h1v1h-1zM211 125h1v1h-1zM214 125h2v1h-2zM230 125h1v1h-1zM151 126h1v1h-1zM160 126h1v1h-1zM166 126h1v1h-1zM199 126h1v1h-1zM203 126h2v1h-2zM206 126h2v1h-2zM210 126h1v1h-1zM212 126h1v1h-1zM220 126h1v1h-1zM83 127h1v1h-1zM89 127h1v1h-1zM94 127h1v1h-1zM200 127h1v1h-1zM202 127h2v1h-2zM205 127h2v1h-2zM208 127h4v1h-4zM216 127h1v1h-1zM66 128h1v1h-1zM188 128h1v1h-1zM195 128h1v1h-1zM203 128h1v1h-1zM205 128h1v1h-1zM208 128h1v1h-1zM210 128h2v1h-2zM65 129h1v1h-1zM89 129h1v1h-1zM122 129h1v1h-1zM126 129h1v1h-1zM138 129h1v1h-1zM147 129h1v1h-1zM160 129h1v1h-1zM192 129h1v1h-1zM194 129h1v1h-1zM199 129h1v1h-1zM205 129h2v1h-2zM211 129h1v1h-1zM115 130h1v1h-1zM175 130h1v1h-1zM180 130h1v1h-1zM184 130h1v1h-1zM197 130h1v1h-1zM200 130h1v1h-1zM202 130h1v1h-1zM207 130h2v1h-2zM210 130h1v1h-1zM162 131h1v1h-1zM174 131h1v1h-1zM184 131h1v1h-1zM191 131h2v1h-2zM194 131h4v1h-4zM199 131h1v1h-1zM203 131h1v1h-1zM206 131h2v1h-2zM213 131h1v1h-1zM79 132h1v1h-1zM89 132h1v1h-1zM112 132h1v1h-1zM118 132h1v1h-1zM130 132h1v1h-1zM158 132h1v1h-1zM191 132h1v1h-1zM195 132h2v1h-2zM207 132h1v1h-1zM209 132h1v1h-1zM123 133h1v1h-1zM174 133h2v1h-2zM183 133h1v1h-1zM186 133h1v1h-1zM188 133h1v1h-1zM204 133h1v1h-1zM114 134h1v1h-1zM117 134h1v1h-1zM122 134h1v1h-1zM192 134h1v1h-1zM218 134h1v1h-1zM73 135h1v1h-1zM151 135h1v1h-1zM177 135h1v1h-1zM183 135h3v1h-3zM188 135h1v1h-1zM198 135h1v1h-1zM209 135h1v1h-1zM211 135h1v1h-1zM61 136h1v1h-1zM90 136h1v1h-1zM118 136h1v1h-1zM146 136h1v1h-1zM173 136h1v1h-1zM175 136h1v1h-1zM179 136h2v1h-2zM186 136h1v1h-1zM189 136h1v1h-1zM209 136h2v1h-2zM92 137h1v1h-1zM109 137h1v1h-1zM131 137h1v1h-1zM143 137h1v1h-1zM160 137h1v1h-1zM176 137h1v1h-1zM180 137h1v1h-1zM108 138h1v1h-1zM110 138h1v1h-1zM133 138h1v1h-1zM136 138h1v1h-1zM141 138h1v1h-1zM172 138h1v1h-1zM182 138h1v1h-1zM211 138h1v1h-1zM111 139h1v1h-1zM136 139h1v1h-1zM143 139h1v1h-1zM145 139h1v1h-1zM167 139h1v1h-1zM209 139h2v1h-2zM67 140h1v1h-1zM72 140h1v1h-1zM77 140h1v1h-1zM95 140h1v1h-1zM136 140h1v1h-1zM153 140h1v1h-1zM182 140h1v1h-1zM208 140h1v1h-1zM65 141h1v1h-1zM69 141h2v1h-2zM75 141h1v1h-1zM93 141h1v1h-1zM103 141h1v1h-1zM152 141h1v1h-1zM183 141h1v1h-1zM207 141h1v1h-1zM211 141h1v1h-1zM213 141h1v1h-1zM96 142h1v1h-1zM125 142h1v1h-1zM155 142h1v1h-1zM167 142h1v1h-1zM204 142h1v1h-1zM208 142h1v1h-1zM210 142h1v1h-1zM212 142h1v1h-1zM87 143h1v1h-1zM95 143h1v1h-1zM134 143h1v1h-1zM136 143h1v1h-1zM154 143h1v1h-1zM160 143h1v1h-1zM162 143h1v1h-1zM197 143h1v1h-1zM213 143h1v1h-1zM78 144h1v1h-1zM100 144h1v1h-1zM121 144h1v1h-1zM132 144h1v1h-1zM141 144h1v1h-1zM180 144h1v1h-1zM205 144h1v1h-1zM209 144h1v1h-1zM212 144h1v1h-1zM86 145h2v1h-2zM130 145h1v1h-1zM143 145h1v1h-1zM147 145h1v1h-1zM151 145h1v1h-1zM163 145h1v1h-1zM200 145h1v1h-1zM208 145h1v1h-1zM210 145h1v1h-1zM63 146h1v1h-1zM69 146h1v1h-1zM78 146h1v1h-1zM93 146h1v1h-1zM106 146h1v1h-1zM113 146h1v1h-1zM115 146h1v1h-1zM131 146h1v1h-1zM148 146h1v1h-1zM153 146h1v1h-1zM170 146h1v1h-1zM209 146h1v1h-1zM65 147h1v1h-1zM79 147h1v1h-1zM115 147h2v1h-2zM120 147h1v1h-1zM125 147h1v1h-1zM133 147h1v1h-1zM139 147h1v1h-1zM147 147h1v1h-1zM153 147h1v1h-1zM155 147h1v1h-1zM180 147h1v1h-1zM211 147h2v1h-2zM121 148h1v1h-1zM141 148h1v1h-1zM188 148h1v1h-1zM205 148h1v1h-1zM208 148h1v1h-1zM210 148h1v1h-1zM94 149h1v1h-1zM141 149h1v1h-1zM156 149h2v1h-2zM162 149h1v1h-1zM209 149h1v1h-1zM212 149h1v1h-1zM61 150h1v1h-1zM67 150h1v1h-1zM84 150h1v1h-1zM93 150h1v1h-1zM95 150h1v1h-1zM101 150h1v1h-1zM104 150h1v1h-1zM146 150h1v1h-1zM169 150h1v1h-1zM205 150h1v1h-1zM208 150h1v1h-1zM63 151h1v1h-1zM71 151h1v1h-1zM88 151h1v1h-1zM98 151h1v1h-1zM105 151h2v1h-2zM113 151h1v1h-1zM116 151h1v1h-1zM131 151h1v1h-1zM133 151h1v1h-1zM141 151h1v1h-1zM167 151h1v1h-1zM169 151h1v1h-1zM205 151h1v1h-1zM208 151h1v1h-1zM70 152h1v1h-1zM89 152h1v1h-1zM119 152h1v1h-1zM142 152h1v1h-1zM148 152h1v1h-1zM152 152h1v1h-1zM88 153h2v1h-2zM102 153h1v1h-1zM159 153h1v1h-1zM176 153h1v1h-1zM188 153h1v1h-1zM206 153h1v1h-1zM213 153h1v1h-1zM77 154h2v1h-2zM98 154h1v1h-1zM123 154h1v1h-1zM141 154h1v1h-1zM143 154h1v1h-1zM170 154h1v1h-1zM205 154h2v1h-2zM78 155h1v1h-1zM107 155h1v1h-1zM114 155h1v1h-1zM125 155h1v1h-1zM151 155h1v1h-1zM163 155h1v1h-1zM177 155h1v1h-1zM182 155h1v1h-1zM208 155h2v1h-2zM214 155h1v1h-1zM79 156h1v1h-1zM81 156h1v1h-1zM100 156h1v1h-1zM109 156h2v1h-2zM138 156h1v1h-1zM140 156h1v1h-1zM158 156h1v1h-1zM176 156h1v1h-1zM208 156h2v1h-2zM211 156h1v1h-1zM62 157h1v1h-1zM95 157h1v1h-1zM119 157h1v1h-1zM122 157h1v1h-1zM135 157h1v1h-1zM148 157h2v1h-2zM151 157h1v1h-1zM155 157h1v1h-1zM181 157h1v1h-1zM194 157h1v1h-1zM208 157h2v1h-2zM213 157h1v1h-1zM85 158h1v1h-1zM99 158h1v1h-1zM107 158h1v1h-1zM113 158h1v1h-1zM119 158h1v1h-1zM128 158h2v1h-2zM131 158h1v1h-1zM158 158h1v1h-1zM163 158h1v1h-1zM207 158h1v1h-1zM209 158h1v1h-1zM212 158h1v1h-1zM65 159h1v1h-1zM92 159h1v1h-1zM99 159h1v1h-1zM113 159h1v1h-1zM115 159h1v1h-1zM124 159h1v1h-1zM127 159h1v1h-1zM132 159h2v1h-2zM138 159h1v1h-1zM140 159h1v1h-1zM149 159h1v1h-1zM162 159h1v1h-1zM174 159h1v1h-1zM208 159h2v1h-2zM74 160h1v1h-1zM110 160h1v1h-1zM116 160h1v1h-1zM127 160h1v1h-1zM130 160h1v1h-1zM136 160h2v1h-2zM139 160h3v1h-3zM148 160h1v1h-1zM153 160h2v1h-2zM165 160h1v1h-1zM168 160h1v1h-1zM189 160h1v1h-1zM198 160h1v1h-1zM212 160h1v1h-1zM62 161h1v1h-1zM79 161h1v1h-1zM88 161h1v1h-1zM93 161h1v1h-1zM96 161h1v1h-1zM99 161h1v1h-1zM109 161h1v1h-1zM112 161h1v1h-1zM118 161h1v1h-1zM125 161h1v1h-1zM128 161h1v1h-1zM130 161h1v1h-1zM143 161h1v1h-1zM150 161h1v1h-1zM158 161h2v1h-2zM166 161h1v1h-1zM207 161h1v1h-1zM209 161h1v1h-1zM79 162h1v1h-1zM83 162h1v1h-1zM96 162h1v1h-1zM104 162h2v1h-2zM108 162h1v1h-1zM110 162h2v1h-2zM118 162h2v1h-2zM121 162h2v1h-2zM128 162h1v1h-1zM135 162h1v1h-1zM137 162h2v1h-2zM140 162h1v1h-1zM142 162h1v1h-1zM144 162h1v1h-1zM148 162h1v1h-1zM163 162h1v1h-1zM170 162h1v1h-1zM204 162h1v1h-1zM206 162h1v1h-1zM211 162h1v1h-1zM63 163h1v1h-1zM68 163h1v1h-1zM70 163h1v1h-1zM72 163h1v1h-1zM76 163h1v1h-1zM81 163h1v1h-1zM87 163h1v1h-1zM93 163h1v1h-1zM95 163h1v1h-1zM101 163h1v1h-1zM105 163h1v1h-1zM107 163h1v1h-1zM124 163h1v1h-1zM132 163h1v1h-1zM139 163h1v1h-1zM143 163h1v1h-1zM147 163h2v1h-2zM152 163h2v1h-2zM155 163h1v1h-1zM171 163h1v1h-1zM186 163h1v1h-1zM208 163h1v1h-1zM69 164h1v1h-1zM72 164h1v1h-1zM78 164h1v1h-1zM85 164h1v1h-1zM93 164h1v1h-1zM96 164h1v1h-1zM106 164h1v1h-1zM108 164h2v1h-2zM118 164h1v1h-1zM122 164h2v1h-2zM130 164h1v1h-1zM132 164h2v1h-2zM137 164h2v1h-2zM141 164h2v1h-2zM144 164h1v1h-1zM150 164h2v1h-2zM156 164h1v1h-1zM158 164h1v1h-1zM161 164h1v1h-1zM165 164h1v1h-1zM171 164h1v1h-1zM209 164h3v1h-3zM62 165h1v1h-1zM65 165h1v1h-1zM68 165h1v1h-1zM88 165h1v1h-1zM95 165h1v1h-1zM100 165h1v1h-1zM103 165h1v1h-1zM105 165h1v1h-1zM108 165h1v1h-1zM115 165h1v1h-1zM119 165h1v1h-1zM123 165h3v1h-3zM127 165h1v1h-1zM130 165h4v1h-4zM137 165h2v1h-2zM140 165h1v1h-1zM142 165h4v1h-4zM148 165h1v1h-1zM150 165h1v1h-1zM155 165h2v1h-2zM159 165h1v1h-1zM161 165h3v1h-3zM171 165h3v1h-3zM207 165h1v1h-1zM211 165h1v1h-1zM66 166h1v1h-1zM68 166h2v1h-2zM71 166h1v1h-1zM87 166h2v1h-2zM91 166h1v1h-1zM95 166h1v1h-1zM97 166h3v1h-3zM104 166h3v1h-3zM109 166h1v1h-1zM114 166h1v1h-1zM116 166h4v1h-4zM121 166h2v1h-2zM126 166h1v1h-1zM128 166h6v1h-6zM135 166h3v1h-3zM140 166h1v1h-1zM142 166h1v1h-1zM145 166h2v1h-2zM148 166h1v1h-1zM150 166h1v1h-1zM153 166h4v1h-4zM161 166h1v1h-1zM166 166h1v1h-1zM187 166h1v1h-1zM207 166h1v1h-1zM62 167h2v1h-2zM66 167h1v1h-1zM73 167h1v1h-1zM76 167h2v1h-2zM82 167h3v1h-3zM91 167h2v1h-2zM98 167h1v1h-1zM102 167h1v1h-1zM105 167h1v1h-1zM111 167h2v1h-2zM114 167h4v1h-4zM120 167h3v1h-3zM124 167h4v1h-4zM129 167h3v1h-3zM133 167h2v1h-2zM142 167h1v1h-1zM144 167h1v1h-1zM147 167h1v1h-1zM151 167h1v1h-1zM153 167h2v1h-2zM157 167h1v1h-1zM159 167h1v1h-1zM163 167h4v1h-4zM168 167h1v1h-1zM170 167h3v1h-3zM174 167h1v1h-1zM206 167h1v1h-1zM61 168h2v1h-2zM66 168h2v1h-2zM71 168h2v1h-2zM74 168h1v1h-1zM76 168h2v1h-2zM80 168h1v1h-1zM83 168h1v1h-1zM87 168h3v1h-3zM91 168h1v1h-1zM93 168h4v1h-4zM101 168h2v1h-2zM106 168h1v1h-1zM108 168h2v1h-2zM111 168h4v1h-4zM116 168h3v1h-3zM120 168h2v1h-2zM123 168h1v1h-1zM125 168h2v1h-2zM130 168h5v1h-5zM136 168h1v1h-1zM138 168h2v1h-2zM142 168h1v1h-1zM145 168h8v1h-8zM154 168h3v1h-3zM158 168h1v1h-1zM160 168h3v1h-3zM164 168h1v1h-1zM166 168h2v1h-2zM173 168h2v1h-2zM204 168h1v1h-1zM206 168h2v1h-2zM212 168h1v1h-1zM63 169h1v1h-1zM67 169h1v1h-1zM76 169h1v1h-1zM81 169h1v1h-1zM84 169h2v1h-2zM88 169h2v1h-2zM92 169h1v1h-1zM96 169h1v1h-1zM98 169h5v1h-5zM104 169h2v1h-2zM110 169h2v1h-2zM114 169h2v1h-2zM117 169h1v1h-1zM119 169h4v1h-4zM124 169h2v1h-2zM127 169h1v1h-1zM130 169h3v1h-3zM134 169h2v1h-2zM138 169h5v1h-5zM144 169h2v1h-2zM147 169h3v1h-3zM151 169h1v1h-1zM154 169h3v1h-3zM159 169h1v1h-1zM162 169h3v1h-3zM167 169h2v1h-2zM170 169h2v1h-2zM174 169h1v1h-1zM187 169h1v1h-1zM62 170h2v1h-2zM67 170h1v1h-1zM71 170h1v1h-1zM74 170h1v1h-1zM78 170h3v1h-3zM83 170h1v1h-1zM92 170h1v1h-1zM100 170h1v1h-1zM103 170h4v1h-4zM109 170h1v1h-1zM111 170h3v1h-3zM116 170h1v1h-1zM118 170h3v1h-3zM122 170h2v1h-2zM127 170h1v1h-1zM132 170h1v1h-1zM135 170h3v1h-3zM139 170h1v1h-1zM141 170h3v1h-3zM145 170h1v1h-1zM147 170h6v1h-6zM155 170h2v1h-2zM160 170h3v1h-3zM171 170h1v1h-1zM176 170h1v1h-1zM206 170h2v1h-2zM211 170h1v1h-1zM215 170h1v1h-1zM67 171h1v1h-1zM75 171h1v1h-1zM77 171h1v1h-1zM79 171h1v1h-1zM83 171h1v1h-1zM85 171h2v1h-2zM89 171h1v1h-1zM91 171h1v1h-1zM97 171h1v1h-1zM99 171h2v1h-2zM102 171h1v1h-1zM104 171h1v1h-1zM107 171h3v1h-3zM112 171h1v1h-1zM115 171h5v1h-5zM121 171h4v1h-4zM127 171h9v1h-9zM137 171h4v1h-4zM143 171h1v1h-1zM146 171h3v1h-3zM150 171h3v1h-3zM154 171h7v1h-7zM163 171h1v1h-1zM166 171h1v1h-1zM176 171h1v1h-1zM205 171h1v1h-1zM214 171h1v1h-1zM65 172h1v1h-1zM70 172h1v1h-1zM77 172h1v1h-1zM80 172h1v1h-1zM82 172h1v1h-1zM86 172h1v1h-1zM89 172h1v1h-1zM91 172h1v1h-1zM93 172h2v1h-2zM97 172h2v1h-2zM101 172h2v1h-2zM105 172h2v1h-2zM108 172h2v1h-2zM112 172h1v1h-1zM116 172h8v1h-8zM125 172h1v1h-1zM127 172h2v1h-2zM131 172h12v1h-12zM144 172h2v1h-2zM148 172h1v1h-1zM150 172h1v1h-1zM154 172h4v1h-4zM159 172h1v1h-1zM162 172h1v1h-1zM164 172h1v1h-1zM166 172h2v1h-2zM176 172h1v1h-1zM208 172h1v1h-1zM63 173h1v1h-1zM71 173h2v1h-2zM74 173h1v1h-1zM77 173h2v1h-2zM84 173h2v1h-2zM88 173h1v1h-1zM95 173h1v1h-1zM100 173h1v1h-1zM102 173h1v1h-1zM106 173h1v1h-1zM109 173h10v1h-10zM121 173h3v1h-3zM128 173h2v1h-2zM131 173h2v1h-2zM134 173h1v1h-1zM136 173h5v1h-5zM144 173h1v1h-1zM146 173h15v1h-15zM166 173h1v1h-1zM170 173h2v1h-2zM174 173h1v1h-1zM205 173h1v1h-1zM207 173h1v1h-1zM209 173h1v1h-1zM62 174h1v1h-1zM70 174h1v1h-1zM73 174h3v1h-3zM82 174h3v1h-3zM90 174h1v1h-1zM93 174h2v1h-2zM96 174h6v1h-6zM103 174h1v1h-1zM107 174h8v1h-8zM116 174h8v1h-8zM125 174h5v1h-5zM131 174h18v1h-18zM150 174h5v1h-5zM156 174h1v1h-1zM158 174h3v1h-3zM162 174h1v1h-1zM164 174h1v1h-1zM169 174h1v1h-1zM178 174h1v1h-1zM205 174h1v1h-1zM67 175h1v1h-1zM69 175h1v1h-1zM74 175h1v1h-1zM77 175h4v1h-4zM91 175h3v1h-3zM98 175h1v1h-1zM100 175h2v1h-2zM105 175h1v1h-1zM108 175h2v1h-2zM112 175h3v1h-3zM116 175h4v1h-4zM122 175h11v1h-11zM137 175h4v1h-4zM142 175h2v1h-2zM145 175h2v1h-2zM151 175h3v1h-3zM155 175h7v1h-7zM163 175h4v1h-4zM176 175h1v1h-1zM203 175h2v1h-2zM210 175h1v1h-1zM67 176h2v1h-2zM70 176h1v1h-1zM73 176h1v1h-1zM75 176h1v1h-1zM77 176h1v1h-1zM79 176h5v1h-5zM89 176h1v1h-1zM91 176h1v1h-1zM96 176h7v1h-7zM106 176h1v1h-1zM108 176h4v1h-4zM114 176h4v1h-4zM119 176h2v1h-2zM123 176h3v1h-3zM127 176h3v1h-3zM131 176h3v1h-3zM135 176h7v1h-7zM143 176h3v1h-3zM147 176h3v1h-3zM151 176h8v1h-8zM165 176h1v1h-1zM168 176h1v1h-1zM171 176h2v1h-2zM175 176h1v1h-1zM177 176h1v1h-1zM205 176h1v1h-1zM208 176h1v1h-1zM62 177h1v1h-1zM66 177h1v1h-1zM70 177h2v1h-2zM83 177h1v1h-1zM95 177h1v1h-1zM98 177h9v1h-9zM109 177h1v1h-1zM112 177h4v1h-4zM117 177h7v1h-7zM125 177h9v1h-9zM136 177h3v1h-3zM141 177h1v1h-1zM143 177h7v1h-7zM151 177h6v1h-6zM161 177h1v1h-1zM164 177h3v1h-3zM168 177h4v1h-4zM174 177h1v1h-1zM176 177h1v1h-1zM179 177h2v1h-2zM207 177h1v1h-1zM213 177h1v1h-1zM61 178h2v1h-2zM64 178h1v1h-1zM66 178h3v1h-3zM71 178h1v1h-1zM74 178h3v1h-3zM83 178h1v1h-1zM85 178h1v1h-1zM90 178h2v1h-2zM96 178h1v1h-1zM103 178h16v1h-16zM120 178h1v1h-1zM122 178h3v1h-3zM126 178h1v1h-1zM129 178h3v1h-3zM133 178h7v1h-7zM141 178h1v1h-1zM143 178h1v1h-1zM145 178h2v1h-2zM149 178h5v1h-5zM157 178h1v1h-1zM159 178h3v1h-3zM163 178h2v1h-2zM168 178h1v1h-1zM170 178h2v1h-2zM63 179h1v1h-1zM66 179h1v1h-1zM68 179h1v1h-1zM70 179h1v1h-1zM73 179h1v1h-1zM75 179h1v1h-1zM78 179h2v1h-2zM83 179h1v1h-1zM86 179h1v1h-1zM88 179h1v1h-1zM90 179h1v1h-1zM95 179h3v1h-3zM100 179h1v1h-1zM102 179h2v1h-2zM107 179h2v1h-2zM110 179h3v1h-3zM114 179h10v1h-10zM125 179h8v1h-8zM134 179h5v1h-5zM140 179h9v1h-9zM150 179h2v1h-2zM153 179h4v1h-4zM158 179h1v1h-1zM165 179h2v1h-2zM176 179h1v1h-1zM208 179h1v1h-1zM61 180h1v1h-1zM65 180h1v1h-1zM69 180h1v1h-1zM72 180h2v1h-2zM79 180h3v1h-3zM85 180h1v1h-1zM89 180h1v1h-1zM91 180h1v1h-1zM96 180h1v1h-1zM100 180h6v1h-6zM107 180h2v1h-2zM111 180h3v1h-3zM115 180h4v1h-4zM120 180h3v1h-3zM124 180h2v1h-2zM127 180h1v1h-1zM130 180h4v1h-4zM135 180h5v1h-5zM141 180h2v1h-2zM144 180h1v1h-1zM146 180h2v1h-2zM149 180h4v1h-4zM155 180h1v1h-1zM158 180h2v1h-2zM161 180h4v1h-4zM166 180h1v1h-1zM169 180h3v1h-3zM176 180h2v1h-2zM184 180h1v1h-1zM207 180h1v1h-1zM210 180h1v1h-1zM62 181h1v1h-1zM64 181h1v1h-1zM68 181h1v1h-1zM74 181h1v1h-1zM77 181h2v1h-2zM80 181h1v1h-1zM82 181h2v1h-2zM86 181h1v1h-1zM88 181h2v1h-2zM91 181h1v1h-1zM97 181h2v1h-2zM100 181h2v1h-2zM104 181h1v1h-1zM106 181h4v1h-4zM111 181h3v1h-3zM115 181h4v1h-4zM120 181h1v1h-1zM122 181h4v1h-4zM128 181h4v1h-4zM133 181h3v1h-3zM137 181h17v1h-17zM155 181h3v1h-3zM161 181h2v1h-2zM166 181h1v1h-1zM168 181h1v1h-1zM171 181h1v1h-1zM175 181h1v1h-1zM62 182h3v1h-3zM70 182h1v1h-1zM72 182h1v1h-1zM85 182h1v1h-1zM87 182h5v1h-5zM95 182h7v1h-7zM103 182h1v1h-1zM105 182h2v1h-2zM110 182h2v1h-2zM113 182h13v1h-13zM127 182h3v1h-3zM132 182h1v1h-1zM134 182h3v1h-3zM138 182h1v1h-1zM141 182h5v1h-5zM147 182h1v1h-1zM150 182h1v1h-1zM152 182h7v1h-7zM160 182h1v1h-1zM162 182h1v1h-1zM164 182h2v1h-2zM167 182h2v1h-2zM178 182h1v1h-1zM207 182h1v1h-1zM61 183h2v1h-2zM70 183h1v1h-1zM77 183h1v1h-1zM79 183h1v1h-1zM83 183h2v1h-2zM90 183h1v1h-1zM92 183h3v1h-3zM99 183h1v1h-1zM104 183h4v1h-4zM109 183h2v1h-2zM112 183h2v1h-2zM115 183h21v1h-21zM137 183h1v1h-1zM139 183h9v1h-9zM149 183h4v1h-4zM155 183h8v1h-8zM165 183h1v1h-1zM168 183h3v1h-3zM172 183h1v1h-1zM181 183h1v1h-1zM202 183h1v1h-1zM63 184h2v1h-2zM66 184h1v1h-1zM70 184h2v1h-2zM75 184h2v1h-2zM79 184h1v1h-1zM81 184h1v1h-1zM83 184h1v1h-1zM87 184h1v1h-1zM92 184h3v1h-3zM99 184h6v1h-6zM106 184h6v1h-6zM113 184h6v1h-6zM120 184h11v1h-11zM132 184h6v1h-6zM139 184h17v1h-17zM157 184h3v1h-3zM161 184h2v1h-2zM166 184h1v1h-1zM174 184h2v1h-2zM181 184h1v1h-1zM209 184h1v1h-1zM61 185h2v1h-2zM66 185h1v1h-1zM73 185h1v1h-1zM77 185h1v1h-1zM79 185h1v1h-1zM85 185h1v1h-1zM87 185h1v1h-1zM90 185h3v1h-3zM96 185h3v1h-3zM100 185h7v1h-7zM108 185h1v1h-1zM110 185h5v1h-5zM116 185h7v1h-7zM125 185h1v1h-1zM129 185h1v1h-1zM131 185h15v1h-15zM149 185h4v1h-4zM154 185h1v1h-1zM157 185h3v1h-3zM161 185h2v1h-2zM171 185h3v1h-3zM207 185h1v1h-1zM225 185h1v1h-1zM65 186h1v1h-1zM67 186h2v1h-2zM70 186h1v1h-1zM72 186h3v1h-3zM76 186h2v1h-2zM79 186h1v1h-1zM84 186h1v1h-1zM88 186h1v1h-1zM90 186h1v1h-1zM95 186h3v1h-3zM99 186h5v1h-5zM105 186h3v1h-3zM110 186h6v1h-6zM117 186h1v1h-1zM121 186h1v1h-1zM123 186h4v1h-4zM128 186h1v1h-1zM130 186h1v1h-1zM132 186h6v1h-6zM139 186h7v1h-7zM147 186h2v1h-2zM150 186h2v1h-2zM153 186h1v1h-1zM155 186h1v1h-1zM157 186h2v1h-2zM161 186h2v1h-2zM164 186h2v1h-2zM184 186h1v1h-1zM68 187h1v1h-1zM74 187h1v1h-1zM78 187h4v1h-4zM85 187h1v1h-1zM89 187h1v1h-1zM92 187h2v1h-2zM95 187h5v1h-5zM102 187h1v1h-1zM108 187h1v1h-1zM112 187h8v1h-8zM121 187h3v1h-3zM125 187h8v1h-8zM134 187h4v1h-4zM139 187h9v1h-9zM149 187h4v1h-4zM155 187h2v1h-2zM159 187h1v1h-1zM162 187h1v1h-1zM164 187h5v1h-5zM205 187h1v1h-1zM209 187h1v1h-1zM66 188h3v1h-3zM73 188h1v1h-1zM85 188h1v1h-1zM88 188h1v1h-1zM91 188h1v1h-1zM96 188h4v1h-4zM101 188h2v1h-2zM104 188h1v1h-1zM106 188h5v1h-5zM112 188h2v1h-2zM115 188h22v1h-22zM139 188h5v1h-5zM146 188h11v1h-11zM158 188h1v1h-1zM162 188h4v1h-4zM168 188h1v1h-1zM170 188h1v1h-1zM172 188h1v1h-1zM176 188h1v1h-1zM62 189h2v1h-2zM66 189h1v1h-1zM71 189h1v1h-1zM77 189h2v1h-2zM83 189h1v1h-1zM88 189h1v1h-1zM90 189h2v1h-2zM94 189h1v1h-1zM96 189h3v1h-3zM100 189h7v1h-7zM108 189h1v1h-1zM110 189h11v1h-11zM123 189h9v1h-9zM133 189h8v1h-8zM142 189h2v1h-2zM145 189h2v1h-2zM148 189h2v1h-2zM151 189h1v1h-1zM153 189h2v1h-2zM157 189h3v1h-3zM161 189h2v1h-2zM167 189h1v1h-1zM169 189h1v1h-1zM205 189h1v1h-1zM62 190h1v1h-1zM69 190h1v1h-1zM71 190h2v1h-2zM76 190h2v1h-2zM80 190h1v1h-1zM82 190h1v1h-1zM89 190h1v1h-1zM92 190h3v1h-3zM97 190h1v1h-1zM100 190h1v1h-1zM102 190h3v1h-3zM106 190h10v1h-10zM117 190h10v1h-10zM128 190h1v1h-1zM130 190h16v1h-16zM147 190h5v1h-5zM156 190h1v1h-1zM158 190h2v1h-2zM161 190h1v1h-1zM163 190h1v1h-1zM168 190h1v1h-1zM171 190h1v1h-1zM62 191h1v1h-1zM68 191h1v1h-1zM74 191h1v1h-1zM85 191h1v1h-1zM87 191h1v1h-1zM90 191h1v1h-1zM94 191h3v1h-3zM101 191h1v1h-1zM103 191h1v1h-1zM105 191h5v1h-5zM111 191h2v1h-2zM116 191h26v1h-26zM143 191h7v1h-7zM151 191h3v1h-3zM155 191h2v1h-2zM158 191h3v1h-3zM162 191h3v1h-3zM166 191h1v1h-1zM171 191h2v1h-2zM175 191h2v1h-2zM66 192h1v1h-1zM71 192h1v1h-1zM74 192h1v1h-1zM77 192h1v1h-1zM83 192h1v1h-1zM90 192h1v1h-1zM92 192h1v1h-1zM95 192h4v1h-4zM100 192h1v1h-1zM102 192h1v1h-1zM104 192h1v1h-1zM106 192h1v1h-1zM108 192h2v1h-2zM111 192h4v1h-4zM117 192h16v1h-16zM134 192h4v1h-4zM139 192h4v1h-4zM144 192h3v1h-3zM148 192h3v1h-3zM152 192h1v1h-1zM155 192h5v1h-5zM161 192h1v1h-1zM165 192h1v1h-1zM167 192h2v1h-2zM170 192h2v1h-2zM64 193h1v1h-1zM67 193h1v1h-1zM69 193h1v1h-1zM79 193h1v1h-1zM83 193h1v1h-1zM90 193h1v1h-1zM93 193h1v1h-1zM95 193h1v1h-1zM97 193h7v1h-7zM105 193h5v1h-5zM113 193h11v1h-11zM125 193h6v1h-6zM132 193h3v1h-3zM136 193h1v1h-1zM138 193h3v1h-3zM142 193h1v1h-1zM144 193h1v1h-1zM146 193h2v1h-2zM149 193h1v1h-1zM151 193h2v1h-2zM154 193h4v1h-4zM159 193h1v1h-1zM166 193h2v1h-2zM172 193h1v1h-1zM203 193h1v1h-1zM65 194h1v1h-1zM74 194h1v1h-1zM77 194h1v1h-1zM85 194h1v1h-1zM90 194h1v1h-1zM93 194h1v1h-1zM96 194h1v1h-1zM98 194h1v1h-1zM100 194h1v1h-1zM102 194h4v1h-4zM107 194h1v1h-1zM109 194h8v1h-8zM118 194h14v1h-14zM133 194h15v1h-15zM149 194h4v1h-4zM154 194h3v1h-3zM158 194h1v1h-1zM160 194h3v1h-3zM164 194h3v1h-3zM169 194h2v1h-2zM176 194h1v1h-1zM61 195h1v1h-1zM71 195h2v1h-2zM80 195h2v1h-2zM84 195h1v1h-1zM87 195h3v1h-3zM91 195h1v1h-1zM94 195h7v1h-7zM102 195h3v1h-3zM106 195h7v1h-7zM114 195h3v1h-3zM119 195h13v1h-13zM133 195h4v1h-4zM138 195h1v1h-1zM140 195h19v1h-19zM161 195h1v1h-1zM167 195h1v1h-1zM169 195h1v1h-1zM176 195h2v1h-2zM69 196h1v1h-1zM71 196h1v1h-1zM73 196h1v1h-1zM75 196h1v1h-1zM80 196h1v1h-1zM88 196h2v1h-2zM93 196h1v1h-1zM95 196h2v1h-2zM100 196h1v1h-1zM102 196h1v1h-1zM105 196h3v1h-3zM109 196h10v1h-10zM121 196h3v1h-3zM125 196h2v1h-2zM128 196h15v1h-15zM144 196h2v1h-2zM147 196h8v1h-8zM156 196h1v1h-1zM158 196h2v1h-2zM161 196h1v1h-1zM164 196h2v1h-2zM168 196h3v1h-3zM172 196h1v1h-1zM64 197h1v1h-1zM67 197h1v1h-1zM70 197h3v1h-3zM76 197h1v1h-1zM89 197h1v1h-1zM91 197h1v1h-1zM93 197h2v1h-2zM96 197h2v1h-2zM99 197h10v1h-10zM110 197h1v1h-1zM112 197h2v1h-2zM115 197h2v1h-2zM118 197h10v1h-10zM129 197h22v1h-22zM152 197h8v1h-8zM161 197h2v1h-2zM164 197h2v1h-2zM168 197h1v1h-1zM62 198h1v1h-1zM69 198h1v1h-1zM72 198h1v1h-1zM74 198h2v1h-2zM80 198h1v1h-1zM85 198h1v1h-1zM89 198h3v1h-3zM93 198h3v1h-3zM99 198h1v1h-1zM101 198h3v1h-3zM105 198h4v1h-4zM110 198h6v1h-6zM117 198h5v1h-5zM123 198h23v1h-23zM147 198h7v1h-7zM155 198h4v1h-4zM164 198h2v1h-2zM169 198h1v1h-1zM173 198h1v1h-1zM177 198h1v1h-1zM61 199h1v1h-1zM64 199h1v1h-1zM77 199h1v1h-1zM79 199h1v1h-1zM81 199h1v1h-1zM84 199h1v1h-1zM86 199h1v1h-1zM89 199h1v1h-1zM92 199h1v1h-1zM94 199h1v1h-1zM96 199h1v1h-1zM99 199h3v1h-3zM104 199h7v1h-7zM112 199h4v1h-4zM117 199h4v1h-4zM122 199h2v1h-2zM125 199h3v1h-3zM129 199h9v1h-9zM139 199h5v1h-5zM145 199h3v1h-3zM149 199h7v1h-7zM158 199h1v1h-1zM160 199h1v1h-1zM162 199h5v1h-5zM172 199h2v1h-2zM184 199h1v1h-1zM61 200h1v1h-1zM68 200h2v1h-2zM71 200h1v1h-1zM76 200h1v1h-1zM78 200h1v1h-1zM90 200h2v1h-2zM94 200h2v1h-2zM101 200h1v1h-1zM103 200h2v1h-2zM106 200h2v1h-2zM110 200h21v1h-21zM133 200h2v1h-2zM136 200h2v1h-2zM139 200h6v1h-6zM147 200h2v1h-2zM150 200h1v1h-1zM152 200h2v1h-2zM155 200h2v1h-2zM158 200h3v1h-3zM162 200h1v1h-1zM164 200h1v1h-1zM166 200h1v1h-1zM168 200h1v1h-1zM170 200h2v1h-2zM174 200h1v1h-1zM197 200h1v1h-1zM64 201h1v1h-1zM68 201h1v1h-1zM70 201h1v1h-1zM72 201h1v1h-1zM76 201h1v1h-1zM79 201h1v1h-1zM81 201h1v1h-1zM86 201h2v1h-2zM89 201h1v1h-1zM92 201h1v1h-1zM94 201h1v1h-1zM96 201h2v1h-2zM99 201h1v1h-1zM102 201h3v1h-3zM106 201h5v1h-5zM112 201h3v1h-3zM116 201h3v1h-3zM120 201h4v1h-4zM125 201h9v1h-9zM135 201h16v1h-16zM152 201h5v1h-5zM159 201h1v1h-1zM162 201h2v1h-2zM165 201h4v1h-4zM172 201h2v1h-2zM61 202h1v1h-1zM66 202h1v1h-1zM83 202h1v1h-1zM85 202h4v1h-4zM91 202h1v1h-1zM95 202h1v1h-1zM97 202h1v1h-1zM99 202h3v1h-3zM104 202h3v1h-3zM108 202h14v1h-14zM123 202h3v1h-3zM127 202h9v1h-9zM137 202h6v1h-6zM145 202h3v1h-3zM150 202h2v1h-2zM156 202h5v1h-5zM162 202h2v1h-2zM165 202h3v1h-3zM172 202h2v1h-2zM61 203h2v1h-2zM66 203h2v1h-2zM79 203h1v1h-1zM81 203h1v1h-1zM85 203h1v1h-1zM88 203h1v1h-1zM93 203h1v1h-1zM95 203h1v1h-1zM97 203h3v1h-3zM101 203h2v1h-2zM104 203h1v1h-1zM106 203h6v1h-6zM113 203h8v1h-8zM122 203h3v1h-3zM126 203h8v1h-8zM135 203h2v1h-2zM138 203h1v1h-1zM140 203h14v1h-14zM155 203h7v1h-7zM163 203h4v1h-4zM169 203h1v1h-1zM175 203h1v1h-1zM68 204h1v1h-1zM73 204h1v1h-1zM76 204h4v1h-4zM81 204h2v1h-2zM84 204h1v1h-1zM89 204h2v1h-2zM92 204h1v1h-1zM99 204h2v1h-2zM103 204h1v1h-1zM105 204h3v1h-3zM110 204h5v1h-5zM116 204h7v1h-7zM124 204h7v1h-7zM132 204h1v1h-1zM134 204h4v1h-4zM139 204h15v1h-15zM155 204h2v1h-2zM158 204h2v1h-2zM162 204h2v1h-2zM165 204h1v1h-1zM167 204h1v1h-1zM62 205h1v1h-1zM69 205h1v1h-1zM78 205h1v1h-1zM82 205h1v1h-1zM84 205h1v1h-1zM86 205h1v1h-1zM88 205h1v1h-1zM90 205h2v1h-2zM94 205h4v1h-4zM99 205h7v1h-7zM108 205h3v1h-3zM112 205h8v1h-8zM121 205h1v1h-1zM123 205h8v1h-8zM133 205h1v1h-1zM135 205h3v1h-3zM139 205h8v1h-8zM150 205h2v1h-2zM153 205h3v1h-3zM157 205h3v1h-3zM167 205h2v1h-2zM170 205h1v1h-1zM181 205h1v1h-1zM68 206h1v1h-1zM70 206h1v1h-1zM81 206h1v1h-1zM83 206h1v1h-1zM88 206h1v1h-1zM92 206h1v1h-1zM96 206h2v1h-2zM99 206h7v1h-7zM109 206h2v1h-2zM112 206h2v1h-2zM115 206h2v1h-2zM119 206h24v1h-24zM144 206h13v1h-13zM158 206h4v1h-4zM163 206h4v1h-4zM62 207h1v1h-1zM66 207h1v1h-1zM70 207h1v1h-1zM81 207h1v1h-1zM84 207h2v1h-2zM88 207h3v1h-3zM92 207h1v1h-1zM94 207h2v1h-2zM98 207h5v1h-5zM105 207h1v1h-1zM107 207h1v1h-1zM109 207h1v1h-1zM111 207h11v1h-11zM123 207h8v1h-8zM132 207h17v1h-17zM150 207h2v1h-2zM153 207h3v1h-3zM157 207h5v1h-5zM164 207h2v1h-2zM167 207h1v1h-1zM172 207h1v1h-1zM61 208h2v1h-2zM66 208h1v1h-1zM69 208h1v1h-1zM72 208h2v1h-2zM76 208h1v1h-1zM78 208h1v1h-1zM81 208h2v1h-2zM86 208h2v1h-2zM92 208h2v1h-2zM96 208h2v1h-2zM99 208h9v1h-9zM109 208h3v1h-3zM113 208h3v1h-3zM117 208h11v1h-11zM129 208h3v1h-3zM135 208h3v1h-3zM139 208h8v1h-8zM148 208h3v1h-3zM152 208h1v1h-1zM155 208h4v1h-4zM162 208h2v1h-2zM168 208h1v1h-1zM170 208h1v1h-1zM173 208h1v1h-1zM176 208h1v1h-1zM65 209h1v1h-1zM72 209h1v1h-1zM74 209h1v1h-1zM76 209h1v1h-1zM81 209h1v1h-1zM91 209h1v1h-1zM93 209h1v1h-1zM95 209h1v1h-1zM97 209h2v1h-2zM101 209h2v1h-2zM107 209h3v1h-3zM111 209h1v1h-1zM113 209h16v1h-16zM130 209h6v1h-6zM137 209h16v1h-16zM154 209h4v1h-4zM160 209h1v1h-1zM162 209h2v1h-2zM167 209h1v1h-1zM169 209h1v1h-1zM179 209h1v1h-1zM181 209h1v1h-1zM67 210h1v1h-1zM74 210h1v1h-1zM77 210h2v1h-2zM80 210h1v1h-1zM84 210h2v1h-2zM88 210h1v1h-1zM91 210h2v1h-2zM94 210h3v1h-3zM98 210h1v1h-1zM100 210h1v1h-1zM104 210h3v1h-3zM108 210h1v1h-1zM110 210h2v1h-2zM113 210h10v1h-10zM124 210h7v1h-7zM132 210h4v1h-4zM137 210h5v1h-5zM143 210h5v1h-5zM149 210h1v1h-1zM151 210h6v1h-6zM158 210h2v1h-2zM161 210h1v1h-1zM163 210h3v1h-3zM167 210h1v1h-1zM169 210h1v1h-1zM172 210h1v1h-1zM178 210h1v1h-1zM61 211h1v1h-1zM66 211h1v1h-1zM74 211h2v1h-2zM83 211h4v1h-4zM89 211h1v1h-1zM95 211h1v1h-1zM98 211h2v1h-2zM102 211h1v1h-1zM104 211h14v1h-14zM119 211h24v1h-24zM144 211h2v1h-2zM148 211h3v1h-3zM152 211h1v1h-1zM154 211h2v1h-2zM157 211h2v1h-2zM160 211h2v1h-2zM164 211h1v1h-1zM168 211h2v1h-2zM174 211h1v1h-1zM176 211h1v1h-1zM184 211h1v1h-1zM61 212h2v1h-2zM66 212h1v1h-1zM75 212h3v1h-3zM80 212h2v1h-2zM83 212h1v1h-1zM85 212h1v1h-1zM87 212h1v1h-1zM89 212h1v1h-1zM91 212h2v1h-2zM94 212h4v1h-4zM99 212h4v1h-4zM104 212h4v1h-4zM110 212h2v1h-2zM113 212h4v1h-4zM118 212h3v1h-3zM122 212h5v1h-5zM128 212h1v1h-1zM130 212h7v1h-7zM139 212h11v1h-11zM151 212h11v1h-11zM163 212h1v1h-1zM165 212h1v1h-1zM172 212h4v1h-4zM178 212h1v1h-1zM62 213h1v1h-1zM66 213h1v1h-1zM69 213h1v1h-1zM72 213h1v1h-1zM75 213h2v1h-2zM81 213h3v1h-3zM85 213h1v1h-1zM89 213h1v1h-1zM93 213h1v1h-1zM95 213h4v1h-4zM100 213h1v1h-1zM103 213h1v1h-1zM105 213h2v1h-2zM108 213h1v1h-1zM110 213h2v1h-2zM113 213h3v1h-3zM117 213h5v1h-5zM123 213h11v1h-11zM135 213h2v1h-2zM140 213h1v1h-1zM143 213h6v1h-6zM150 213h1v1h-1zM152 213h4v1h-4zM157 213h2v1h-2zM160 213h1v1h-1zM163 213h1v1h-1zM169 213h2v1h-2zM172 213h2v1h-2zM182 213h2v1h-2zM61 214h1v1h-1zM63 214h1v1h-1zM70 214h1v1h-1zM72 214h1v1h-1zM75 214h1v1h-1zM84 214h1v1h-1zM86 214h2v1h-2zM91 214h2v1h-2zM99 214h1v1h-1zM102 214h1v1h-1zM104 214h6v1h-6zM112 214h8v1h-8zM121 214h3v1h-3zM125 214h14v1h-14zM140 214h1v1h-1zM142 214h10v1h-10zM153 214h2v1h-2zM156 214h2v1h-2zM159 214h3v1h-3zM169 214h1v1h-1zM172 214h1v1h-1zM175 214h1v1h-1zM179 214h1v1h-1zM63 215h2v1h-2zM66 215h2v1h-2zM72 215h1v1h-1zM74 215h1v1h-1zM77 215h1v1h-1zM81 215h1v1h-1zM88 215h1v1h-1zM95 215h2v1h-2zM98 215h3v1h-3zM102 215h3v1h-3zM108 215h4v1h-4zM113 215h4v1h-4zM118 215h3v1h-3zM122 215h1v1h-1zM124 215h3v1h-3zM128 215h3v1h-3zM132 215h1v1h-1zM134 215h15v1h-15zM151 215h4v1h-4zM158 215h1v1h-1zM161 215h2v1h-2zM166 215h1v1h-1zM169 215h1v1h-1zM171 215h1v1h-1zM189 215h1v1h-1zM70 216h1v1h-1zM77 216h1v1h-1zM80 216h2v1h-2zM84 216h1v1h-1zM86 216h2v1h-2zM89 216h1v1h-1zM93 216h2v1h-2zM100 216h1v1h-1zM104 216h6v1h-6zM112 216h6v1h-6zM119 216h2v1h-2zM124 216h8v1h-8zM133 216h10v1h-10zM144 216h9v1h-9zM154 216h3v1h-3zM159 216h2v1h-2zM162 216h4v1h-4zM167 216h1v1h-1zM177 216h1v1h-1zM65 217h1v1h-1zM68 217h2v1h-2zM72 217h1v1h-1zM74 217h2v1h-2zM87 217h2v1h-2zM93 217h3v1h-3zM97 217h1v1h-1zM102 217h15v1h-15zM119 217h4v1h-4zM124 217h2v1h-2zM128 217h8v1h-8zM138 217h1v1h-1zM140 217h4v1h-4zM145 217h1v1h-1zM148 217h1v1h-1zM150 217h1v1h-1zM152 217h5v1h-5zM159 217h1v1h-1zM162 217h4v1h-4zM169 217h1v1h-1zM171 217h1v1h-1zM173 217h1v1h-1zM63 218h1v1h-1zM67 218h1v1h-1zM72 218h2v1h-2zM82 218h1v1h-1zM84 218h1v1h-1zM86 218h1v1h-1zM94 218h1v1h-1zM97 218h2v1h-2zM102 218h1v1h-1zM105 218h1v1h-1zM107 218h4v1h-4zM112 218h1v1h-1zM114 218h1v1h-1zM116 218h1v1h-1zM120 218h9v1h-9zM131 218h1v1h-1zM133 218h11v1h-11zM145 218h2v1h-2zM148 218h1v1h-1zM151 218h4v1h-4zM156 218h3v1h-3zM160 218h2v1h-2zM164 218h2v1h-2zM169 218h1v1h-1zM173 218h1v1h-1zM63 219h1v1h-1zM65 219h1v1h-1zM68 219h1v1h-1zM71 219h1v1h-1zM73 219h2v1h-2zM77 219h2v1h-2zM80 219h2v1h-2zM84 219h1v1h-1zM86 219h1v1h-1zM92 219h2v1h-2zM95 219h2v1h-2zM100 219h1v1h-1zM103 219h3v1h-3zM107 219h4v1h-4zM112 219h19v1h-19zM132 219h7v1h-7zM140 219h1v1h-1zM142 219h3v1h-3zM146 219h5v1h-5zM152 219h1v1h-1zM155 219h1v1h-1zM157 219h2v1h-2zM160 219h1v1h-1zM162 219h5v1h-5zM170 219h1v1h-1zM63 220h3v1h-3zM68 220h1v1h-1zM74 220h1v1h-1zM76 220h1v1h-1zM80 220h2v1h-2zM83 220h4v1h-4zM89 220h1v1h-1zM92 220h1v1h-1zM96 220h3v1h-3zM101 220h1v1h-1zM105 220h2v1h-2zM108 220h2v1h-2zM111 220h2v1h-2zM114 220h1v1h-1zM116 220h2v1h-2zM119 220h8v1h-8zM128 220h1v1h-1zM130 220h4v1h-4zM135 220h5v1h-5zM141 220h2v1h-2zM144 220h2v1h-2zM147 220h6v1h-6zM154 220h2v1h-2zM157 220h2v1h-2zM162 220h7v1h-7zM172 220h1v1h-1zM176 220h1v1h-1zM61 221h1v1h-1zM64 221h1v1h-1zM66 221h1v1h-1zM71 221h1v1h-1zM82 221h1v1h-1zM86 221h2v1h-2zM89 221h1v1h-1zM91 221h2v1h-2zM95 221h1v1h-1zM97 221h1v1h-1zM100 221h2v1h-2zM106 221h3v1h-3zM111 221h7v1h-7zM119 221h1v1h-1zM121 221h5v1h-5zM127 221h2v1h-2zM130 221h2v1h-2zM133 221h2v1h-2zM136 221h4v1h-4zM141 221h2v1h-2zM144 221h4v1h-4zM149 221h2v1h-2zM152 221h2v1h-2zM155 221h2v1h-2zM158 221h3v1h-3zM167 221h4v1h-4zM172 221h1v1h-1zM177 221h1v1h-1zM180 221h1v1h-1zM185 221h1v1h-1zM213 221h1v1h-1zM61 222h1v1h-1zM65 222h1v1h-1zM68 222h2v1h-2zM71 222h1v1h-1zM74 222h1v1h-1zM78 222h2v1h-2zM82 222h1v1h-1zM84 222h1v1h-1zM86 222h2v1h-2zM89 222h2v1h-2zM94 222h3v1h-3zM99 222h3v1h-3zM104 222h1v1h-1zM106 222h1v1h-1zM108 222h2v1h-2zM112 222h5v1h-5zM118 222h1v1h-1zM121 222h4v1h-4zM128 222h9v1h-9zM138 222h1v1h-1zM140 222h2v1h-2zM143 222h9v1h-9zM154 222h2v1h-2zM158 222h6v1h-6zM165 222h2v1h-2zM168 222h1v1h-1zM172 222h1v1h-1zM178 222h2v1h-2zM64 223h1v1h-1zM67 223h2v1h-2zM71 223h1v1h-1zM76 223h1v1h-1zM85 223h2v1h-2zM89 223h1v1h-1zM91 223h1v1h-1zM94 223h7v1h-7zM109 223h1v1h-1zM111 223h2v1h-2zM114 223h1v1h-1zM116 223h3v1h-3zM120 223h4v1h-4zM125 223h3v1h-3zM129 223h3v1h-3zM133 223h6v1h-6zM140 223h1v1h-1zM143 223h3v1h-3zM148 223h3v1h-3zM153 223h5v1h-5zM159 223h1v1h-1zM161 223h3v1h-3zM165 223h1v1h-1zM167 223h1v1h-1zM172 223h1v1h-1zM176 223h1v1h-1zM179 223h2v1h-2zM224 223h1v1h-1zM64 224h1v1h-1zM76 224h2v1h-2zM83 224h1v1h-1zM88 224h1v1h-1zM90 224h2v1h-2zM93 224h2v1h-2zM96 224h5v1h-5zM102 224h1v1h-1zM106 224h1v1h-1zM108 224h2v1h-2zM113 224h7v1h-7zM121 224h7v1h-7zM129 224h3v1h-3zM133 224h3v1h-3zM137 224h5v1h-5zM144 224h2v1h-2zM147 224h3v1h-3zM151 224h1v1h-1zM154 224h7v1h-7zM162 224h2v1h-2zM165 224h1v1h-1zM169 224h1v1h-1zM171 224h1v1h-1zM177 224h1v1h-1zM62 225h1v1h-1zM64 225h1v1h-1zM67 225h2v1h-2zM75 225h2v1h-2zM79 225h1v1h-1zM81 225h2v1h-2zM84 225h1v1h-1zM87 225h4v1h-4zM92 225h1v1h-1zM94 225h1v1h-1zM101 225h2v1h-2zM104 225h1v1h-1zM106 225h1v1h-1zM108 225h1v1h-1zM111 225h2v1h-2zM114 225h1v1h-1zM116 225h9v1h-9zM126 225h1v1h-1zM130 225h6v1h-6zM137 225h2v1h-2zM140 225h1v1h-1zM142 225h4v1h-4zM152 225h7v1h-7zM161 225h1v1h-1zM166 225h3v1h-3zM170 225h1v1h-1zM61 226h1v1h-1zM63 226h2v1h-2zM68 226h1v1h-1zM72 226h1v1h-1zM75 226h1v1h-1zM77 226h1v1h-1zM80 226h1v1h-1zM82 226h1v1h-1zM91 226h3v1h-3zM95 226h1v1h-1zM97 226h1v1h-1zM102 226h1v1h-1zM104 226h2v1h-2zM108 226h6v1h-6zM115 226h2v1h-2zM119 226h1v1h-1zM122 226h6v1h-6zM129 226h2v1h-2zM132 226h3v1h-3zM138 226h2v1h-2zM141 226h1v1h-1zM143 226h2v1h-2zM146 226h4v1h-4zM151 226h2v1h-2zM154 226h3v1h-3zM158 226h3v1h-3zM168 226h1v1h-1zM171 226h1v1h-1zM204 226h1v1h-1z" fill="#111"/>
<path d="M58.6 28.5V89.3H126.1M126.1 89.3L184 96.1L213.8 86.2L239 50.6" fill="none" stroke="#111" stroke-width="1.3"/><path d="M126.1 89.3L169.2 28.5" stroke="#111" stroke-width="1.7"/>
<text x="62.6" y="40" font-size="9">R1</text>
<text x="167.2" y="41.4" font-size="9">R2</text>
<rect x="24.05" y="28.65" width="214.25" height="199.15" fill="none" stroke="#111" stroke-width="1.2"/>
<path d="M24.2 227.8v3.6M32.49 227.8v2.2M40.78 227.8v2.2M49.06 227.8v2.2M57.35 227.8v2.2M65.64 227.8v3.6M73.93 227.8v2.2M82.22 227.8v2.2M90.5 227.8v2.2M98.79 227.8v2.2M107.08 227.8v3.6M115.37 227.8v2.2M123.66 227.8v2.2M131.94 227.8v2.2M140.23 227.8v2.2M148.52 227.8v3.6M156.81 227.8v2.2M165.1 227.8v2.2M173.38 227.8v2.2M181.67 227.8v2.2M189.96 227.8v3.6M198.25 227.8v2.2M206.54 227.8v2.2M214.82 227.8v2.2M223.11 227.8v2.2M231.4 227.8v3.6" stroke="#111" stroke-width="1" fill="none"/>
<text x="25.4" y="240.3" text-anchor="middle" font-size="8.8">0</text>
<text x="66.84" y="240.3" text-anchor="middle" font-size="8.8">200</text>
<text x="108.28" y="240.3" text-anchor="middle" font-size="8.8">400</text>
<text x="149.72" y="240.3" text-anchor="middle" font-size="8.8">600</text>
<text x="191.16" y="240.3" text-anchor="middle" font-size="8.8">800</text>
<text x="232.6" y="240.3" text-anchor="middle" font-size="8.8">1000</text>
<path d="M24.05 227.3h-3.6M24.05 219.56h-2.2M24.05 211.82h-2.2M24.05 204.08h-2.2M24.05 196.34h-2.2M24.05 188.6h-3.6M24.05 180.86h-2.2M24.05 173.12h-2.2M24.05 165.38h-2.2M24.05 157.64h-2.2M24.05 149.9h-3.6M24.05 142.16h-2.2M24.05 134.42h-2.2M24.05 126.68h-2.2M24.05 118.94h-2.2M24.05 111.2h-3.6M24.05 103.46h-2.2M24.05 95.72h-2.2M24.05 87.98h-2.2M24.05 80.24h-2.2M24.05 72.5h-3.6M24.05 64.76h-2.2M24.05 57.02h-2.2M24.05 49.28h-2.2M24.05 41.54h-2.2M24.05 33.8h-3.6" stroke="#111" stroke-width="1" fill="none"/>
<text transform="translate(17 225.3) rotate(-90)" text-anchor="middle" font-size="8.5">0</text>
<text transform="translate(17 186.6) rotate(-90)" text-anchor="middle" font-size="8.5">200</text>
<text transform="translate(17 147.9) rotate(-90)" text-anchor="middle" font-size="8.5">400</text>
<text transform="translate(17 109.2) rotate(-90)" text-anchor="middle" font-size="8.5">600</text>
<text transform="translate(17 70.5) rotate(-90)" text-anchor="middle" font-size="8.5">800</text>
<text transform="translate(17 31.8) rotate(-90)" text-anchor="middle" font-size="8.5">1000</text>
<text x="129.98" y="252" text-anchor="middle" font-size="9" font-weight="bold">FSC-height</text>
<text transform="translate(6 127.48) rotate(-90)" text-anchor="middle" font-size="9.2" font-weight="bold">Glycophorin PE</text>
<text x="0.05" y="17.6" font-size="24" font-weight="bold" style="fill:#000;stroke:#000;stroke-width:0.9px">A</text>
<path d="M468 31h1v1h-1zM470 31h37v1h-37zM466 32h1v1h-1zM468 32h39v1h-39zM467 33h1v1h-1zM469 33h38v1h-38zM460 34h1v1h-1zM466 34h41v1h-41zM467 35h39v1h-39zM451 36h1v1h-1zM455 36h1v1h-1zM457 36h1v1h-1zM462 36h1v1h-1zM464 36h2v1h-2zM467 36h37v1h-37zM462 37h1v1h-1zM464 37h41v1h-41zM451 38h1v1h-1zM458 38h1v1h-1zM462 38h43v1h-43zM449 39h1v1h-1zM460 39h1v1h-1zM462 39h41v1h-41zM458 40h44v1h-44zM503 40h1v1h-1zM448 41h1v1h-1zM459 41h44v1h-44zM504 41h1v1h-1zM454 42h1v1h-1zM457 42h5v1h-5zM463 42h38v1h-38zM502 42h1v1h-1zM504 42h1v1h-1zM449 43h1v1h-1zM457 43h1v1h-1zM459 43h43v1h-43zM503 43h1v1h-1zM444 44h1v1h-1zM458 44h42v1h-42zM453 45h1v1h-1zM455 45h2v1h-2zM458 45h42v1h-42zM443 46h1v1h-1zM452 46h1v1h-1zM454 46h1v1h-1zM456 46h2v1h-2zM459 46h39v1h-39zM499 46h1v1h-1zM450 47h1v1h-1zM454 47h1v1h-1zM456 47h42v1h-42zM438 48h1v1h-1zM454 48h43v1h-43zM447 49h1v1h-1zM452 49h1v1h-1zM454 49h2v1h-2zM457 49h39v1h-39zM497 49h1v1h-1zM431 50h1v1h-1zM446 50h1v1h-1zM449 50h1v1h-1zM452 50h44v1h-44zM376 51h1v1h-1zM437 51h1v1h-1zM441 51h1v1h-1zM450 51h45v1h-45zM361 52h1v1h-1zM376 52h1v1h-1zM447 52h1v1h-1zM450 52h44v1h-44zM380 53h1v1h-1zM441 53h1v1h-1zM446 53h1v1h-1zM450 53h1v1h-1zM452 53h40v1h-40zM494 53h1v1h-1zM373 54h2v1h-2zM380 54h1v1h-1zM393 54h1v1h-1zM437 54h1v1h-1zM446 54h4v1h-4zM451 54h42v1h-42zM494 54h1v1h-1zM364 55h1v1h-1zM366 55h1v1h-1zM370 55h1v1h-1zM377 55h1v1h-1zM445 55h4v1h-4zM450 55h42v1h-42zM353 56h1v1h-1zM364 56h1v1h-1zM375 56h2v1h-2zM382 56h3v1h-3zM442 56h1v1h-1zM444 56h1v1h-1zM446 56h1v1h-1zM448 56h45v1h-45zM355 57h1v1h-1zM358 57h2v1h-2zM365 57h1v1h-1zM369 57h1v1h-1zM374 57h2v1h-2zM382 57h1v1h-1zM390 57h1v1h-1zM396 57h1v1h-1zM443 57h2v1h-2zM446 57h46v1h-46zM354 58h1v1h-1zM357 58h2v1h-2zM367 58h1v1h-1zM378 58h1v1h-1zM380 58h1v1h-1zM394 58h1v1h-1zM443 58h46v1h-46zM490 58h1v1h-1zM354 59h1v1h-1zM374 59h1v1h-1zM386 59h1v1h-1zM392 59h1v1h-1zM397 59h1v1h-1zM400 59h1v1h-1zM439 59h1v1h-1zM441 59h50v1h-50zM391 60h1v1h-1zM435 60h6v1h-6zM443 60h47v1h-47zM368 61h1v1h-1zM378 61h1v1h-1zM433 61h1v1h-1zM435 61h2v1h-2zM439 61h52v1h-52zM384 62h1v1h-1zM433 62h3v1h-3zM437 62h52v1h-52zM432 63h3v1h-3zM436 63h54v1h-54zM491 63h1v1h-1zM433 64h1v1h-1zM436 64h54v1h-54zM429 65h1v1h-1zM432 65h4v1h-4zM437 65h51v1h-51zM489 65h2v1h-2zM432 66h57v1h-57zM432 67h1v1h-1zM435 67h53v1h-53zM431 68h1v1h-1zM434 68h55v1h-55zM432 69h56v1h-56zM432 70h1v1h-1zM434 70h51v1h-51zM487 70h1v1h-1zM431 71h2v1h-2zM434 71h50v1h-50zM428 72h1v1h-1zM432 72h1v1h-1zM434 72h50v1h-50zM485 72h1v1h-1zM432 73h1v1h-1zM435 73h2v1h-2zM438 73h43v1h-43zM482 73h1v1h-1zM432 74h38v1h-38zM471 74h5v1h-5zM477 74h2v1h-2zM480 74h3v1h-3zM435 75h1v1h-1zM438 75h2v1h-2zM441 75h15v1h-15zM457 75h2v1h-2zM460 75h9v1h-9zM472 75h1v1h-1zM474 75h2v1h-2zM482 75h1v1h-1zM488 75h1v1h-1zM443 76h1v1h-1zM445 76h22v1h-22zM469 76h1v1h-1zM471 76h1v1h-1zM475 76h1v1h-1zM487 76h1v1h-1zM440 77h1v1h-1zM445 77h2v1h-2zM448 77h1v1h-1zM451 77h2v1h-2zM455 77h1v1h-1zM459 77h1v1h-1zM461 77h1v1h-1zM463 77h1v1h-1zM465 77h1v1h-1zM470 77h1v1h-1zM423 78h1v1h-1zM435 78h2v1h-2zM450 78h1v1h-1zM466 78h1v1h-1zM443 79h1v1h-1zM461 79h1v1h-1zM470 79h1v1h-1zM410 80h1v1h-1zM436 80h1v1h-1zM438 80h1v1h-1zM464 80h1v1h-1zM466 80h1v1h-1zM422 81h1v1h-1zM440 81h1v1h-1zM445 81h1v1h-1zM447 81h1v1h-1zM465 81h2v1h-2zM429 82h1v1h-1zM437 82h1v1h-1zM461 82h2v1h-2zM424 83h1v1h-1zM435 83h1v1h-1zM443 83h1v1h-1zM459 83h1v1h-1zM431 84h1v1h-1zM441 84h1v1h-1zM445 84h1v1h-1zM484 85h1v1h-1zM424 86h1v1h-1zM430 86h1v1h-1zM437 86h1v1h-1zM440 86h1v1h-1zM452 87h1v1h-1zM481 87h1v1h-1zM449 88h1v1h-1zM460 88h1v1h-1zM428 89h1v1h-1zM351 95h1v1h-1zM397 97h1v1h-1zM332 99h1v1h-1zM430 99h1v1h-1zM476 99h1v1h-1zM450 103h1v1h-1zM336 104h1v1h-1zM401 105h1v1h-1zM373 106h1v1h-1zM409 108h1v1h-1zM396 109h1v1h-1zM368 110h1v1h-1zM450 110h1v1h-1zM427 111h1v1h-1zM391 112h1v1h-1zM379 113h1v1h-1zM395 113h1v1h-1zM359 114h1v1h-1zM389 116h1v1h-1zM417 116h1v1h-1zM342 117h1v1h-1zM369 117h1v1h-1zM388 117h1v1h-1zM422 117h1v1h-1zM346 118h1v1h-1zM362 118h1v1h-1zM401 118h1v1h-1zM412 118h1v1h-1zM501 119h1v1h-1zM388 120h1v1h-1zM417 120h1v1h-1zM468 121h1v1h-1zM505 121h1v1h-1zM382 122h1v1h-1zM397 122h1v1h-1zM372 123h1v1h-1zM400 124h2v1h-2zM340 125h1v1h-1zM366 125h1v1h-1zM369 125h1v1h-1zM371 125h1v1h-1zM351 126h1v1h-1zM356 126h1v1h-1zM387 126h1v1h-1zM409 126h1v1h-1zM456 126h1v1h-1zM499 126h1v1h-1zM512 126h1v1h-1zM359 127h1v1h-1zM364 127h1v1h-1zM414 127h1v1h-1zM376 128h1v1h-1zM380 128h1v1h-1zM435 128h1v1h-1zM368 129h1v1h-1zM392 129h1v1h-1zM405 129h1v1h-1zM333 130h1v1h-1zM341 130h1v1h-1zM356 130h1v1h-1zM361 130h1v1h-1zM416 130h1v1h-1zM404 131h1v1h-1zM410 131h1v1h-1zM425 131h1v1h-1zM463 131h1v1h-1zM365 132h1v1h-1zM375 132h1v1h-1zM378 132h1v1h-1zM416 132h1v1h-1zM360 133h2v1h-2zM365 133h1v1h-1zM370 133h1v1h-1zM379 133h1v1h-1zM396 133h1v1h-1zM398 133h1v1h-1zM401 133h1v1h-1zM425 133h1v1h-1zM428 133h1v1h-1zM438 133h1v1h-1zM457 133h1v1h-1zM366 134h1v1h-1zM401 134h1v1h-1zM419 134h1v1h-1zM496 134h1v1h-1zM365 135h1v1h-1zM475 135h1v1h-1zM494 135h1v1h-1zM496 135h1v1h-1zM341 136h1v1h-1zM409 136h2v1h-2zM418 136h1v1h-1zM439 136h1v1h-1zM491 136h1v1h-1zM393 137h1v1h-1zM426 137h1v1h-1zM432 137h1v1h-1zM497 137h1v1h-1zM335 138h1v1h-1zM338 138h1v1h-1zM380 138h1v1h-1zM391 138h1v1h-1zM430 138h1v1h-1zM492 138h1v1h-1zM497 138h1v1h-1zM339 139h1v1h-1zM353 139h1v1h-1zM358 139h1v1h-1zM383 139h1v1h-1zM392 139h1v1h-1zM402 139h1v1h-1zM489 139h1v1h-1zM493 139h3v1h-3zM497 139h2v1h-2zM336 140h1v1h-1zM349 140h1v1h-1zM354 140h1v1h-1zM373 140h2v1h-2zM400 140h1v1h-1zM409 140h1v1h-1zM412 140h1v1h-1zM416 140h1v1h-1zM420 140h1v1h-1zM436 140h1v1h-1zM491 140h1v1h-1zM496 140h1v1h-1zM498 140h1v1h-1zM384 141h1v1h-1zM334 142h1v1h-1zM336 142h1v1h-1zM345 142h1v1h-1zM374 142h1v1h-1zM414 142h1v1h-1zM368 143h1v1h-1zM374 143h1v1h-1zM384 143h1v1h-1zM389 143h2v1h-2zM416 143h1v1h-1zM423 143h1v1h-1zM435 143h1v1h-1zM365 144h1v1h-1zM379 144h1v1h-1zM385 144h2v1h-2zM394 144h1v1h-1zM408 144h1v1h-1zM493 144h1v1h-1zM495 144h1v1h-1zM364 145h1v1h-1zM369 145h1v1h-1zM386 145h1v1h-1zM399 145h1v1h-1zM424 145h1v1h-1zM463 145h1v1h-1zM494 145h1v1h-1zM499 145h1v1h-1zM336 146h1v1h-1zM345 146h1v1h-1zM356 146h1v1h-1zM370 146h1v1h-1zM383 146h1v1h-1zM392 146h1v1h-1zM403 146h1v1h-1zM406 146h1v1h-1zM415 146h1v1h-1zM437 146h1v1h-1zM338 147h1v1h-1zM365 147h1v1h-1zM415 147h1v1h-1zM424 147h1v1h-1zM439 147h2v1h-2zM475 147h1v1h-1zM491 147h1v1h-1zM352 148h1v1h-1zM369 148h1v1h-1zM393 148h1v1h-1zM419 148h1v1h-1zM430 148h1v1h-1zM457 148h1v1h-1zM466 148h1v1h-1zM474 148h1v1h-1zM486 148h1v1h-1zM489 148h1v1h-1zM493 148h1v1h-1zM352 149h1v1h-1zM384 149h1v1h-1zM407 149h1v1h-1zM435 149h1v1h-1zM460 149h1v1h-1zM489 149h1v1h-1zM347 150h1v1h-1zM367 150h1v1h-1zM376 150h1v1h-1zM393 150h1v1h-1zM395 150h1v1h-1zM406 150h1v1h-1zM428 150h1v1h-1zM438 150h1v1h-1zM443 150h1v1h-1zM476 150h1v1h-1zM485 150h1v1h-1zM489 150h1v1h-1zM497 150h1v1h-1zM334 151h1v1h-1zM365 151h1v1h-1zM376 151h1v1h-1zM390 151h1v1h-1zM393 151h1v1h-1zM408 151h1v1h-1zM419 151h1v1h-1zM425 151h1v1h-1zM436 151h1v1h-1zM491 151h1v1h-1zM335 152h1v1h-1zM341 152h1v1h-1zM395 152h2v1h-2zM411 152h1v1h-1zM434 152h1v1h-1zM446 152h1v1h-1zM476 152h1v1h-1zM491 152h1v1h-1zM330 153h1v1h-1zM368 153h1v1h-1zM371 153h1v1h-1zM373 153h1v1h-1zM388 153h1v1h-1zM398 153h1v1h-1zM401 153h1v1h-1zM405 153h1v1h-1zM412 153h1v1h-1zM422 153h2v1h-2zM469 153h1v1h-1zM484 153h1v1h-1zM488 153h1v1h-1zM373 154h1v1h-1zM375 154h1v1h-1zM381 154h1v1h-1zM389 154h1v1h-1zM397 154h1v1h-1zM403 154h1v1h-1zM406 154h1v1h-1zM409 154h1v1h-1zM413 154h1v1h-1zM447 154h1v1h-1zM449 154h1v1h-1zM484 154h1v1h-1zM494 154h1v1h-1zM349 155h1v1h-1zM373 155h1v1h-1zM386 155h1v1h-1zM403 155h1v1h-1zM406 155h1v1h-1zM412 155h1v1h-1zM419 155h1v1h-1zM434 155h1v1h-1zM485 155h1v1h-1zM335 156h1v1h-1zM341 156h1v1h-1zM353 156h1v1h-1zM380 156h1v1h-1zM383 156h2v1h-2zM404 156h1v1h-1zM412 156h1v1h-1zM420 156h1v1h-1zM452 156h2v1h-2zM348 157h1v1h-1zM357 157h1v1h-1zM361 157h2v1h-2zM372 157h1v1h-1zM379 157h1v1h-1zM383 157h1v1h-1zM385 157h1v1h-1zM394 157h1v1h-1zM396 157h2v1h-2zM403 157h1v1h-1zM405 157h1v1h-1zM409 157h3v1h-3zM416 157h2v1h-2zM423 157h2v1h-2zM431 157h1v1h-1zM440 157h1v1h-1zM451 157h1v1h-1zM455 157h1v1h-1zM490 157h1v1h-1zM356 158h1v1h-1zM366 158h1v1h-1zM370 158h1v1h-1zM395 158h3v1h-3zM415 158h1v1h-1zM433 158h1v1h-1zM451 158h1v1h-1zM483 158h1v1h-1zM488 158h2v1h-2zM338 159h1v1h-1zM363 159h1v1h-1zM377 159h1v1h-1zM381 159h1v1h-1zM388 159h1v1h-1zM390 159h1v1h-1zM394 159h1v1h-1zM400 159h1v1h-1zM405 159h1v1h-1zM408 159h1v1h-1zM411 159h1v1h-1zM423 159h1v1h-1zM426 159h1v1h-1zM433 159h1v1h-1zM464 159h1v1h-1zM486 159h1v1h-1zM331 160h1v1h-1zM360 160h1v1h-1zM381 160h2v1h-2zM390 160h1v1h-1zM395 160h1v1h-1zM397 160h1v1h-1zM401 160h2v1h-2zM407 160h1v1h-1zM410 160h1v1h-1zM417 160h1v1h-1zM421 160h1v1h-1zM432 160h1v1h-1zM443 160h1v1h-1zM448 160h1v1h-1zM453 160h1v1h-1zM479 160h1v1h-1zM482 160h1v1h-1zM330 161h1v1h-1zM347 161h1v1h-1zM368 161h1v1h-1zM374 161h2v1h-2zM380 161h1v1h-1zM382 161h2v1h-2zM385 161h1v1h-1zM392 161h3v1h-3zM397 161h2v1h-2zM400 161h1v1h-1zM408 161h1v1h-1zM412 161h3v1h-3zM421 161h1v1h-1zM437 161h3v1h-3zM485 161h1v1h-1zM488 161h1v1h-1zM329 162h1v1h-1zM359 162h1v1h-1zM365 162h1v1h-1zM369 162h3v1h-3zM374 162h1v1h-1zM390 162h1v1h-1zM392 162h2v1h-2zM396 162h5v1h-5zM406 162h2v1h-2zM409 162h1v1h-1zM412 162h1v1h-1zM414 162h1v1h-1zM419 162h1v1h-1zM430 162h1v1h-1zM438 162h1v1h-1zM456 162h1v1h-1zM458 162h1v1h-1zM484 162h1v1h-1zM486 162h1v1h-1zM489 162h1v1h-1zM501 162h1v1h-1zM342 163h1v1h-1zM361 163h1v1h-1zM368 163h3v1h-3zM385 163h1v1h-1zM387 163h2v1h-2zM390 163h1v1h-1zM394 163h2v1h-2zM397 163h3v1h-3zM401 163h1v1h-1zM403 163h1v1h-1zM410 163h1v1h-1zM412 163h1v1h-1zM416 163h1v1h-1zM419 163h2v1h-2zM422 163h1v1h-1zM426 163h1v1h-1zM430 163h1v1h-1zM451 163h1v1h-1zM482 163h2v1h-2zM487 163h2v1h-2zM490 163h1v1h-1zM343 164h2v1h-2zM352 164h2v1h-2zM363 164h1v1h-1zM369 164h1v1h-1zM375 164h1v1h-1zM379 164h2v1h-2zM382 164h1v1h-1zM385 164h1v1h-1zM388 164h1v1h-1zM392 164h1v1h-1zM394 164h1v1h-1zM398 164h1v1h-1zM403 164h1v1h-1zM408 164h3v1h-3zM417 164h1v1h-1zM421 164h1v1h-1zM426 164h1v1h-1zM438 164h1v1h-1zM441 164h1v1h-1zM481 164h1v1h-1zM485 164h1v1h-1zM487 164h1v1h-1zM489 164h1v1h-1zM336 165h2v1h-2zM341 165h1v1h-1zM343 165h1v1h-1zM350 165h1v1h-1zM356 165h1v1h-1zM368 165h1v1h-1zM370 165h3v1h-3zM377 165h1v1h-1zM379 165h1v1h-1zM383 165h1v1h-1zM385 165h2v1h-2zM388 165h2v1h-2zM391 165h6v1h-6zM398 165h2v1h-2zM401 165h1v1h-1zM403 165h1v1h-1zM406 165h1v1h-1zM408 165h2v1h-2zM414 165h3v1h-3zM420 165h1v1h-1zM425 165h1v1h-1zM428 165h1v1h-1zM432 165h1v1h-1zM434 165h1v1h-1zM439 165h2v1h-2zM481 165h1v1h-1zM483 165h1v1h-1zM485 165h2v1h-2zM488 165h1v1h-1zM490 165h1v1h-1zM330 166h1v1h-1zM332 166h4v1h-4zM356 166h2v1h-2zM364 166h3v1h-3zM373 166h2v1h-2zM376 166h4v1h-4zM383 166h2v1h-2zM387 166h1v1h-1zM390 166h1v1h-1zM392 166h1v1h-1zM394 166h2v1h-2zM398 166h1v1h-1zM400 166h2v1h-2zM403 166h1v1h-1zM407 166h1v1h-1zM410 166h3v1h-3zM414 166h1v1h-1zM416 166h1v1h-1zM420 166h1v1h-1zM423 166h3v1h-3zM430 166h2v1h-2zM436 166h1v1h-1zM439 166h1v1h-1zM441 166h1v1h-1zM444 166h1v1h-1zM481 166h1v1h-1zM483 166h1v1h-1zM491 166h1v1h-1zM333 167h1v1h-1zM340 167h1v1h-1zM345 167h1v1h-1zM350 167h1v1h-1zM354 167h1v1h-1zM356 167h2v1h-2zM363 167h1v1h-1zM366 167h2v1h-2zM371 167h2v1h-2zM374 167h1v1h-1zM377 167h1v1h-1zM379 167h1v1h-1zM381 167h1v1h-1zM383 167h2v1h-2zM386 167h1v1h-1zM388 167h1v1h-1zM393 167h3v1h-3zM398 167h4v1h-4zM405 167h1v1h-1zM407 167h1v1h-1zM413 167h1v1h-1zM415 167h1v1h-1zM418 167h2v1h-2zM421 167h1v1h-1zM424 167h1v1h-1zM427 167h4v1h-4zM433 167h1v1h-1zM444 167h1v1h-1zM477 167h1v1h-1zM482 167h3v1h-3zM329 168h1v1h-1zM333 168h1v1h-1zM336 168h1v1h-1zM341 168h2v1h-2zM352 168h1v1h-1zM354 168h1v1h-1zM359 168h1v1h-1zM362 168h2v1h-2zM365 168h2v1h-2zM368 168h1v1h-1zM370 168h1v1h-1zM372 168h3v1h-3zM377 168h3v1h-3zM382 168h3v1h-3zM387 168h2v1h-2zM390 168h1v1h-1zM393 168h8v1h-8zM403 168h2v1h-2zM409 168h2v1h-2zM412 168h3v1h-3zM419 168h4v1h-4zM425 168h3v1h-3zM431 168h1v1h-1zM433 168h1v1h-1zM435 168h1v1h-1zM437 168h2v1h-2zM440 168h1v1h-1zM446 168h1v1h-1zM450 168h1v1h-1zM452 168h1v1h-1zM466 168h1v1h-1zM480 168h1v1h-1zM482 168h4v1h-4zM338 169h1v1h-1zM342 169h1v1h-1zM351 169h1v1h-1zM354 169h2v1h-2zM358 169h1v1h-1zM362 169h1v1h-1zM366 169h1v1h-1zM368 169h2v1h-2zM373 169h2v1h-2zM378 169h1v1h-1zM381 169h1v1h-1zM383 169h3v1h-3zM387 169h2v1h-2zM390 169h4v1h-4zM395 169h3v1h-3zM404 169h2v1h-2zM410 169h1v1h-1zM413 169h3v1h-3zM417 169h1v1h-1zM419 169h2v1h-2zM423 169h2v1h-2zM426 169h1v1h-1zM428 169h2v1h-2zM431 169h2v1h-2zM435 169h2v1h-2zM440 169h1v1h-1zM479 169h5v1h-5zM485 169h2v1h-2zM488 169h1v1h-1zM331 170h1v1h-1zM334 170h1v1h-1zM340 170h2v1h-2zM348 170h2v1h-2zM353 170h1v1h-1zM355 170h1v1h-1zM360 170h1v1h-1zM362 170h3v1h-3zM366 170h1v1h-1zM368 170h1v1h-1zM370 170h1v1h-1zM373 170h13v1h-13zM387 170h1v1h-1zM389 170h2v1h-2zM392 170h1v1h-1zM394 170h8v1h-8zM404 170h1v1h-1zM406 170h1v1h-1zM409 170h1v1h-1zM411 170h5v1h-5zM417 170h1v1h-1zM420 170h4v1h-4zM425 170h2v1h-2zM429 170h1v1h-1zM432 170h1v1h-1zM435 170h3v1h-3zM439 170h1v1h-1zM443 170h1v1h-1zM479 170h2v1h-2zM482 170h1v1h-1zM491 170h1v1h-1zM330 171h1v1h-1zM333 171h1v1h-1zM335 171h1v1h-1zM339 171h1v1h-1zM341 171h2v1h-2zM348 171h1v1h-1zM351 171h1v1h-1zM359 171h5v1h-5zM365 171h1v1h-1zM367 171h1v1h-1zM370 171h1v1h-1zM372 171h3v1h-3zM380 171h1v1h-1zM382 171h4v1h-4zM387 171h6v1h-6zM394 171h6v1h-6zM401 171h3v1h-3zM405 171h1v1h-1zM407 171h5v1h-5zM413 171h1v1h-1zM415 171h2v1h-2zM418 171h2v1h-2zM422 171h1v1h-1zM424 171h2v1h-2zM427 171h1v1h-1zM429 171h2v1h-2zM434 171h2v1h-2zM437 171h1v1h-1zM439 171h2v1h-2zM442 171h1v1h-1zM444 171h1v1h-1zM447 171h1v1h-1zM472 171h1v1h-1zM480 171h4v1h-4zM329 172h1v1h-1zM336 172h1v1h-1zM340 172h1v1h-1zM342 172h1v1h-1zM345 172h1v1h-1zM351 172h1v1h-1zM355 172h1v1h-1zM360 172h1v1h-1zM362 172h1v1h-1zM365 172h2v1h-2zM374 172h1v1h-1zM378 172h3v1h-3zM382 172h1v1h-1zM386 172h8v1h-8zM397 172h4v1h-4zM404 172h7v1h-7zM412 172h3v1h-3zM418 172h4v1h-4zM427 172h1v1h-1zM429 172h2v1h-2zM432 172h1v1h-1zM434 172h1v1h-1zM437 172h4v1h-4zM454 172h1v1h-1zM486 172h1v1h-1zM329 173h3v1h-3zM336 173h1v1h-1zM340 173h2v1h-2zM343 173h1v1h-1zM347 173h1v1h-1zM350 173h1v1h-1zM354 173h3v1h-3zM364 173h1v1h-1zM367 173h2v1h-2zM372 173h2v1h-2zM375 173h1v1h-1zM377 173h1v1h-1zM379 173h7v1h-7zM387 173h4v1h-4zM392 173h12v1h-12zM405 173h3v1h-3zM411 173h1v1h-1zM413 173h3v1h-3zM417 173h1v1h-1zM419 173h2v1h-2zM424 173h6v1h-6zM431 173h2v1h-2zM438 173h2v1h-2zM461 173h1v1h-1zM479 173h3v1h-3zM483 173h1v1h-1zM497 173h1v1h-1zM330 174h2v1h-2zM333 174h1v1h-1zM336 174h2v1h-2zM344 174h1v1h-1zM348 174h1v1h-1zM353 174h2v1h-2zM356 174h1v1h-1zM358 174h3v1h-3zM363 174h2v1h-2zM369 174h1v1h-1zM371 174h4v1h-4zM376 174h10v1h-10zM387 174h6v1h-6zM394 174h6v1h-6zM401 174h3v1h-3zM405 174h2v1h-2zM408 174h16v1h-16zM425 174h1v1h-1zM427 174h1v1h-1zM431 174h2v1h-2zM434 174h2v1h-2zM438 174h1v1h-1zM449 174h1v1h-1zM479 174h2v1h-2zM485 174h1v1h-1zM331 175h3v1h-3zM337 175h2v1h-2zM345 175h1v1h-1zM348 175h3v1h-3zM358 175h1v1h-1zM362 175h1v1h-1zM367 175h3v1h-3zM372 175h1v1h-1zM374 175h2v1h-2zM378 175h2v1h-2zM381 175h10v1h-10zM392 175h8v1h-8zM401 175h8v1h-8zM410 175h1v1h-1zM412 175h3v1h-3zM416 175h4v1h-4zM421 175h6v1h-6zM428 175h1v1h-1zM430 175h2v1h-2zM433 175h3v1h-3zM333 176h3v1h-3zM337 176h2v1h-2zM341 176h1v1h-1zM344 176h1v1h-1zM348 176h3v1h-3zM355 176h1v1h-1zM359 176h1v1h-1zM361 176h1v1h-1zM366 176h2v1h-2zM369 176h3v1h-3zM374 176h2v1h-2zM377 176h2v1h-2zM381 176h34v1h-34zM416 176h1v1h-1zM419 176h2v1h-2zM422 176h1v1h-1zM426 176h4v1h-4zM431 176h1v1h-1zM434 176h2v1h-2zM438 176h1v1h-1zM444 176h2v1h-2zM453 176h1v1h-1zM455 176h1v1h-1zM333 177h1v1h-1zM336 177h2v1h-2zM341 177h2v1h-2zM348 177h1v1h-1zM351 177h1v1h-1zM354 177h2v1h-2zM357 177h1v1h-1zM359 177h2v1h-2zM363 177h1v1h-1zM367 177h2v1h-2zM370 177h8v1h-8zM379 177h3v1h-3zM383 177h3v1h-3zM388 177h16v1h-16zM405 177h9v1h-9zM416 177h6v1h-6zM424 177h1v1h-1zM428 177h2v1h-2zM433 177h4v1h-4zM438 177h2v1h-2zM442 177h2v1h-2zM448 177h1v1h-1zM458 177h1v1h-1zM464 177h1v1h-1zM477 177h1v1h-1zM481 177h1v1h-1zM488 177h1v1h-1zM330 178h1v1h-1zM333 178h1v1h-1zM336 178h3v1h-3zM345 178h1v1h-1zM347 178h1v1h-1zM352 178h1v1h-1zM355 178h2v1h-2zM363 178h5v1h-5zM369 178h5v1h-5zM375 178h1v1h-1zM377 178h2v1h-2zM380 178h1v1h-1zM382 178h2v1h-2zM385 178h5v1h-5zM391 178h1v1h-1zM393 178h15v1h-15zM409 178h12v1h-12zM422 178h1v1h-1zM424 178h2v1h-2zM428 178h5v1h-5zM435 178h2v1h-2zM444 178h2v1h-2zM455 178h1v1h-1zM329 179h7v1h-7zM339 179h1v1h-1zM354 179h1v1h-1zM357 179h2v1h-2zM360 179h1v1h-1zM362 179h1v1h-1zM366 179h1v1h-1zM369 179h3v1h-3zM373 179h1v1h-1zM375 179h3v1h-3zM379 179h5v1h-5zM385 179h2v1h-2zM390 179h5v1h-5zM396 179h11v1h-11zM408 179h1v1h-1zM410 179h4v1h-4zM416 179h1v1h-1zM419 179h1v1h-1zM422 179h1v1h-1zM424 179h2v1h-2zM429 179h8v1h-8zM441 179h2v1h-2zM444 179h1v1h-1zM447 179h1v1h-1zM461 179h2v1h-2zM483 179h1v1h-1zM511 179h1v1h-1zM334 180h2v1h-2zM337 180h2v1h-2zM347 180h1v1h-1zM354 180h1v1h-1zM358 180h3v1h-3zM363 180h1v1h-1zM366 180h3v1h-3zM370 180h1v1h-1zM372 180h1v1h-1zM374 180h6v1h-6zM381 180h6v1h-6zM391 180h15v1h-15zM408 180h4v1h-4zM413 180h4v1h-4zM418 180h4v1h-4zM423 180h2v1h-2zM426 180h4v1h-4zM431 180h2v1h-2zM437 180h1v1h-1zM442 180h1v1h-1zM475 180h1v1h-1zM331 181h1v1h-1zM335 181h1v1h-1zM338 181h1v1h-1zM342 181h2v1h-2zM345 181h1v1h-1zM350 181h2v1h-2zM358 181h1v1h-1zM360 181h1v1h-1zM363 181h1v1h-1zM368 181h1v1h-1zM372 181h3v1h-3zM376 181h1v1h-1zM379 181h20v1h-20zM400 181h3v1h-3zM404 181h7v1h-7zM412 181h5v1h-5zM420 181h4v1h-4zM425 181h2v1h-2zM428 181h2v1h-2zM433 181h2v1h-2zM442 181h1v1h-1zM452 181h1v1h-1zM455 181h1v1h-1zM461 181h1v1h-1zM332 182h1v1h-1zM334 182h1v1h-1zM344 182h2v1h-2zM350 182h1v1h-1zM352 182h1v1h-1zM356 182h1v1h-1zM358 182h1v1h-1zM361 182h1v1h-1zM364 182h2v1h-2zM367 182h1v1h-1zM372 182h5v1h-5zM378 182h1v1h-1zM380 182h6v1h-6zM387 182h7v1h-7zM395 182h14v1h-14zM411 182h1v1h-1zM413 182h3v1h-3zM417 182h9v1h-9zM428 182h2v1h-2zM431 182h2v1h-2zM434 182h3v1h-3zM442 182h2v1h-2zM446 182h1v1h-1zM329 183h1v1h-1zM332 183h1v1h-1zM338 183h1v1h-1zM340 183h1v1h-1zM342 183h1v1h-1zM344 183h1v1h-1zM351 183h1v1h-1zM355 183h1v1h-1zM361 183h1v1h-1zM363 183h1v1h-1zM367 183h1v1h-1zM371 183h21v1h-21zM394 183h1v1h-1zM396 183h1v1h-1zM398 183h2v1h-2zM401 183h4v1h-4zM406 183h5v1h-5zM412 183h2v1h-2zM415 183h3v1h-3zM419 183h1v1h-1zM421 183h4v1h-4zM428 183h2v1h-2zM431 183h1v1h-1zM433 183h2v1h-2zM436 183h1v1h-1zM438 183h2v1h-2zM443 183h1v1h-1zM452 183h1v1h-1zM457 183h1v1h-1zM336 184h1v1h-1zM344 184h1v1h-1zM347 184h2v1h-2zM352 184h1v1h-1zM354 184h1v1h-1zM359 184h1v1h-1zM363 184h2v1h-2zM366 184h3v1h-3zM370 184h1v1h-1zM372 184h6v1h-6zM379 184h3v1h-3zM383 184h3v1h-3zM388 184h10v1h-10zM399 184h4v1h-4zM404 184h6v1h-6zM411 184h2v1h-2zM415 184h5v1h-5zM421 184h5v1h-5zM427 184h2v1h-2zM430 184h2v1h-2zM434 184h1v1h-1zM437 184h1v1h-1zM439 184h3v1h-3zM446 184h1v1h-1zM449 184h1v1h-1zM451 184h1v1h-1zM477 184h1v1h-1zM332 185h1v1h-1zM334 185h2v1h-2zM339 185h1v1h-1zM341 185h1v1h-1zM350 185h1v1h-1zM357 185h1v1h-1zM360 185h1v1h-1zM363 185h1v1h-1zM367 185h2v1h-2zM376 185h1v1h-1zM378 185h6v1h-6zM385 185h1v1h-1zM387 185h1v1h-1zM389 185h2v1h-2zM392 185h10v1h-10zM403 185h5v1h-5zM409 185h7v1h-7zM417 185h3v1h-3zM421 185h2v1h-2zM424 185h1v1h-1zM426 185h1v1h-1zM428 185h1v1h-1zM430 185h5v1h-5zM436 185h3v1h-3zM440 185h3v1h-3zM330 186h2v1h-2zM333 186h1v1h-1zM339 186h2v1h-2zM342 186h1v1h-1zM344 186h1v1h-1zM347 186h2v1h-2zM350 186h1v1h-1zM360 186h2v1h-2zM366 186h3v1h-3zM370 186h2v1h-2zM373 186h1v1h-1zM376 186h17v1h-17zM395 186h3v1h-3zM399 186h3v1h-3zM403 186h7v1h-7zM412 186h5v1h-5zM419 186h3v1h-3zM424 186h1v1h-1zM427 186h1v1h-1zM429 186h1v1h-1zM431 186h1v1h-1zM435 186h2v1h-2zM439 186h1v1h-1zM441 186h1v1h-1zM453 186h1v1h-1zM334 187h1v1h-1zM338 187h5v1h-5zM344 187h1v1h-1zM349 187h1v1h-1zM353 187h1v1h-1zM360 187h1v1h-1zM362 187h2v1h-2zM367 187h2v1h-2zM371 187h6v1h-6zM378 187h7v1h-7zM386 187h14v1h-14zM401 187h5v1h-5zM407 187h8v1h-8zM416 187h5v1h-5zM422 187h1v1h-1zM424 187h1v1h-1zM426 187h2v1h-2zM429 187h3v1h-3zM434 187h1v1h-1zM439 187h1v1h-1zM442 187h1v1h-1zM446 187h1v1h-1zM448 187h1v1h-1zM465 187h1v1h-1zM337 188h1v1h-1zM345 188h1v1h-1zM350 188h2v1h-2zM353 188h1v1h-1zM360 188h1v1h-1zM362 188h2v1h-2zM365 188h2v1h-2zM368 188h7v1h-7zM376 188h7v1h-7zM384 188h2v1h-2zM387 188h7v1h-7zM395 188h10v1h-10zM406 188h11v1h-11zM418 188h2v1h-2zM421 188h4v1h-4zM427 188h1v1h-1zM430 188h2v1h-2zM433 188h1v1h-1zM435 188h4v1h-4zM440 188h1v1h-1zM442 188h1v1h-1zM445 188h1v1h-1zM451 188h1v1h-1zM484 188h1v1h-1zM332 189h2v1h-2zM336 189h1v1h-1zM340 189h2v1h-2zM346 189h2v1h-2zM349 189h1v1h-1zM356 189h4v1h-4zM361 189h2v1h-2zM368 189h1v1h-1zM370 189h4v1h-4zM375 189h18v1h-18zM394 189h7v1h-7zM402 189h3v1h-3zM406 189h1v1h-1zM408 189h5v1h-5zM416 189h6v1h-6zM423 189h7v1h-7zM431 189h3v1h-3zM439 189h3v1h-3zM444 189h2v1h-2zM447 189h1v1h-1zM455 189h1v1h-1zM329 190h1v1h-1zM331 190h3v1h-3zM335 190h2v1h-2zM338 190h1v1h-1zM341 190h4v1h-4zM353 190h1v1h-1zM358 190h2v1h-2zM361 190h1v1h-1zM366 190h3v1h-3zM371 190h2v1h-2zM374 190h1v1h-1zM377 190h2v1h-2zM380 190h4v1h-4zM385 190h6v1h-6zM392 190h6v1h-6zM399 190h5v1h-5zM405 190h13v1h-13zM419 190h2v1h-2zM423 190h1v1h-1zM426 190h3v1h-3zM430 190h2v1h-2zM434 190h1v1h-1zM436 190h4v1h-4zM441 190h2v1h-2zM331 191h3v1h-3zM335 191h1v1h-1zM339 191h2v1h-2zM344 191h1v1h-1zM347 191h2v1h-2zM352 191h2v1h-2zM357 191h1v1h-1zM359 191h1v1h-1zM361 191h5v1h-5zM367 191h1v1h-1zM369 191h1v1h-1zM371 191h3v1h-3zM376 191h2v1h-2zM379 191h2v1h-2zM382 191h4v1h-4zM387 191h7v1h-7zM396 191h6v1h-6zM404 191h17v1h-17zM422 191h1v1h-1zM425 191h1v1h-1zM427 191h2v1h-2zM431 191h1v1h-1zM435 191h2v1h-2zM438 191h2v1h-2zM441 191h1v1h-1zM443 191h1v1h-1zM445 191h1v1h-1zM447 191h1v1h-1zM332 192h2v1h-2zM341 192h1v1h-1zM343 192h2v1h-2zM347 192h1v1h-1zM350 192h1v1h-1zM357 192h1v1h-1zM362 192h1v1h-1zM364 192h1v1h-1zM368 192h7v1h-7zM378 192h9v1h-9zM388 192h8v1h-8zM397 192h2v1h-2zM400 192h3v1h-3zM404 192h2v1h-2zM407 192h1v1h-1zM409 192h6v1h-6zM416 192h2v1h-2zM419 192h7v1h-7zM427 192h8v1h-8zM439 192h1v1h-1zM444 192h1v1h-1zM330 193h3v1h-3zM336 193h1v1h-1zM338 193h2v1h-2zM342 193h2v1h-2zM345 193h3v1h-3zM349 193h1v1h-1zM351 193h1v1h-1zM355 193h1v1h-1zM358 193h1v1h-1zM360 193h2v1h-2zM364 193h2v1h-2zM368 193h1v1h-1zM371 193h1v1h-1zM373 193h2v1h-2zM376 193h4v1h-4zM382 193h1v1h-1zM387 193h1v1h-1zM389 193h5v1h-5zM395 193h9v1h-9zM405 193h7v1h-7zM413 193h13v1h-13zM427 193h5v1h-5zM433 193h1v1h-1zM436 193h1v1h-1zM439 193h1v1h-1zM446 193h1v1h-1zM335 194h2v1h-2zM340 194h1v1h-1zM344 194h1v1h-1zM347 194h1v1h-1zM349 194h1v1h-1zM351 194h1v1h-1zM353 194h1v1h-1zM356 194h1v1h-1zM360 194h1v1h-1zM362 194h1v1h-1zM365 194h4v1h-4zM371 194h1v1h-1zM374 194h1v1h-1zM377 194h9v1h-9zM387 194h5v1h-5zM393 194h3v1h-3zM397 194h11v1h-11zM409 194h9v1h-9zM419 194h3v1h-3zM423 194h2v1h-2zM426 194h4v1h-4zM431 194h1v1h-1zM434 194h2v1h-2zM437 194h3v1h-3zM442 194h1v1h-1zM449 194h1v1h-1zM481 194h1v1h-1zM329 195h2v1h-2zM337 195h2v1h-2zM340 195h2v1h-2zM347 195h3v1h-3zM353 195h2v1h-2zM357 195h1v1h-1zM362 195h1v1h-1zM365 195h3v1h-3zM370 195h8v1h-8zM379 195h2v1h-2zM382 195h2v1h-2zM385 195h9v1h-9zM395 195h8v1h-8zM405 195h1v1h-1zM407 195h4v1h-4zM413 195h5v1h-5zM419 195h1v1h-1zM421 195h1v1h-1zM423 195h1v1h-1zM427 195h3v1h-3zM431 195h1v1h-1zM433 195h2v1h-2zM436 195h4v1h-4zM442 195h1v1h-1zM444 195h1v1h-1zM462 195h1v1h-1zM330 196h1v1h-1zM332 196h1v1h-1zM334 196h1v1h-1zM338 196h1v1h-1zM342 196h1v1h-1zM346 196h2v1h-2zM351 196h1v1h-1zM361 196h2v1h-2zM365 196h2v1h-2zM368 196h3v1h-3zM372 196h5v1h-5zM378 196h4v1h-4zM383 196h4v1h-4zM388 196h5v1h-5zM395 196h2v1h-2zM398 196h3v1h-3zM402 196h4v1h-4zM407 196h9v1h-9zM417 196h14v1h-14zM432 196h1v1h-1zM435 196h1v1h-1zM437 196h1v1h-1zM439 196h2v1h-2zM464 196h1v1h-1zM469 196h1v1h-1zM494 196h1v1h-1zM331 197h1v1h-1zM336 197h1v1h-1zM338 197h1v1h-1zM343 197h2v1h-2zM355 197h2v1h-2zM358 197h1v1h-1zM362 197h1v1h-1zM364 197h4v1h-4zM369 197h2v1h-2zM373 197h1v1h-1zM377 197h1v1h-1zM379 197h8v1h-8zM388 197h10v1h-10zM399 197h13v1h-13zM413 197h9v1h-9zM423 197h1v1h-1zM426 197h4v1h-4zM433 197h1v1h-1zM436 197h3v1h-3zM442 197h1v1h-1zM336 198h3v1h-3zM341 198h1v1h-1zM347 198h2v1h-2zM356 198h1v1h-1zM360 198h1v1h-1zM363 198h2v1h-2zM367 198h2v1h-2zM370 198h3v1h-3zM374 198h3v1h-3zM378 198h5v1h-5zM384 198h13v1h-13zM398 198h6v1h-6zM406 198h1v1h-1zM408 198h6v1h-6zM415 198h2v1h-2zM419 198h1v1h-1zM421 198h3v1h-3zM425 198h2v1h-2zM428 198h1v1h-1zM432 198h5v1h-5zM440 198h1v1h-1zM442 198h1v1h-1zM449 198h1v1h-1zM462 198h1v1h-1zM471 198h1v1h-1zM330 199h1v1h-1zM332 199h1v1h-1zM336 199h1v1h-1zM341 199h1v1h-1zM343 199h1v1h-1zM345 199h2v1h-2zM349 199h1v1h-1zM353 199h3v1h-3zM358 199h3v1h-3zM362 199h1v1h-1zM364 199h3v1h-3zM369 199h1v1h-1zM371 199h2v1h-2zM375 199h4v1h-4zM380 199h11v1h-11zM392 199h1v1h-1zM394 199h1v1h-1zM396 199h22v1h-22zM422 199h13v1h-13zM438 199h1v1h-1zM440 199h2v1h-2zM443 199h1v1h-1zM447 199h1v1h-1zM478 199h1v1h-1zM331 200h1v1h-1zM333 200h3v1h-3zM340 200h3v1h-3zM355 200h2v1h-2zM360 200h5v1h-5zM367 200h1v1h-1zM370 200h8v1h-8zM379 200h15v1h-15zM395 200h18v1h-18zM414 200h1v1h-1zM416 200h3v1h-3zM420 200h1v1h-1zM422 200h5v1h-5zM428 200h4v1h-4zM434 200h2v1h-2zM437 200h1v1h-1zM439 200h1v1h-1zM443 200h1v1h-1zM446 200h1v1h-1zM454 200h1v1h-1zM332 201h3v1h-3zM342 201h1v1h-1zM346 201h2v1h-2zM351 201h3v1h-3zM355 201h1v1h-1zM357 201h1v1h-1zM361 201h1v1h-1zM364 201h1v1h-1zM367 201h11v1h-11zM379 201h7v1h-7zM387 201h5v1h-5zM393 201h6v1h-6zM400 201h7v1h-7zM408 201h15v1h-15zM425 201h4v1h-4zM430 201h1v1h-1zM432 201h1v1h-1zM434 201h1v1h-1zM436 201h2v1h-2zM439 201h1v1h-1zM442 201h1v1h-1zM445 201h2v1h-2zM453 201h1v1h-1zM488 201h1v1h-1zM331 202h2v1h-2zM334 202h2v1h-2zM337 202h1v1h-1zM342 202h1v1h-1zM344 202h3v1h-3zM352 202h1v1h-1zM355 202h1v1h-1zM357 202h1v1h-1zM360 202h1v1h-1zM362 202h1v1h-1zM365 202h1v1h-1zM367 202h1v1h-1zM371 202h2v1h-2zM374 202h1v1h-1zM376 202h4v1h-4zM381 202h18v1h-18zM400 202h1v1h-1zM402 202h1v1h-1zM404 202h2v1h-2zM407 202h17v1h-17zM425 202h4v1h-4zM430 202h1v1h-1zM432 202h3v1h-3zM436 202h2v1h-2zM441 202h2v1h-2zM490 202h1v1h-1zM338 203h1v1h-1zM340 203h1v1h-1zM344 203h1v1h-1zM346 203h1v1h-1zM352 203h2v1h-2zM358 203h1v1h-1zM360 203h1v1h-1zM362 203h1v1h-1zM365 203h4v1h-4zM370 203h3v1h-3zM376 203h1v1h-1zM378 203h10v1h-10zM390 203h4v1h-4zM395 203h1v1h-1zM397 203h25v1h-25zM423 203h2v1h-2zM426 203h3v1h-3zM430 203h2v1h-2zM433 203h1v1h-1zM436 203h2v1h-2zM441 203h2v1h-2zM449 203h1v1h-1zM454 203h1v1h-1zM458 203h1v1h-1zM462 203h1v1h-1zM329 204h1v1h-1zM331 204h2v1h-2zM334 204h3v1h-3zM340 204h1v1h-1zM343 204h2v1h-2zM347 204h4v1h-4zM358 204h3v1h-3zM363 204h8v1h-8zM374 204h2v1h-2zM377 204h15v1h-15zM393 204h3v1h-3zM397 204h12v1h-12zM410 204h9v1h-9zM421 204h1v1h-1zM423 204h5v1h-5zM429 204h1v1h-1zM432 204h1v1h-1zM434 204h3v1h-3zM440 204h2v1h-2zM329 205h1v1h-1zM334 205h4v1h-4zM339 205h1v1h-1zM347 205h1v1h-1zM355 205h1v1h-1zM361 205h1v1h-1zM364 205h1v1h-1zM367 205h2v1h-2zM370 205h2v1h-2zM373 205h1v1h-1zM375 205h2v1h-2zM378 205h7v1h-7zM386 205h9v1h-9zM396 205h9v1h-9zM407 205h1v1h-1zM409 205h4v1h-4zM415 205h10v1h-10zM426 205h4v1h-4zM432 205h1v1h-1zM435 205h1v1h-1zM437 205h1v1h-1zM440 205h1v1h-1zM460 205h1v1h-1zM490 205h1v1h-1zM330 206h4v1h-4zM338 206h2v1h-2zM346 206h1v1h-1zM352 206h1v1h-1zM360 206h1v1h-1zM363 206h1v1h-1zM365 206h2v1h-2zM368 206h2v1h-2zM371 206h2v1h-2zM375 206h1v1h-1zM377 206h6v1h-6zM384 206h21v1h-21zM406 206h1v1h-1zM408 206h4v1h-4zM413 206h4v1h-4zM418 206h4v1h-4zM423 206h2v1h-2zM427 206h1v1h-1zM430 206h3v1h-3zM434 206h4v1h-4zM329 207h1v1h-1zM333 207h1v1h-1zM335 207h1v1h-1zM339 207h1v1h-1zM345 207h1v1h-1zM353 207h1v1h-1zM356 207h1v1h-1zM359 207h1v1h-1zM364 207h1v1h-1zM368 207h1v1h-1zM370 207h3v1h-3zM374 207h7v1h-7zM382 207h3v1h-3zM386 207h4v1h-4zM391 207h10v1h-10zM403 207h5v1h-5zM410 207h7v1h-7zM420 207h1v1h-1zM422 207h4v1h-4zM427 207h3v1h-3zM431 207h1v1h-1zM433 207h2v1h-2zM437 207h1v1h-1zM445 207h2v1h-2zM332 208h1v1h-1zM335 208h2v1h-2zM341 208h3v1h-3zM345 208h1v1h-1zM348 208h1v1h-1zM353 208h2v1h-2zM357 208h6v1h-6zM366 208h1v1h-1zM368 208h6v1h-6zM377 208h1v1h-1zM379 208h8v1h-8zM388 208h9v1h-9zM398 208h2v1h-2zM401 208h1v1h-1zM405 208h10v1h-10zM416 208h1v1h-1zM418 208h1v1h-1zM420 208h3v1h-3zM425 208h4v1h-4zM431 208h4v1h-4zM437 208h1v1h-1zM440 208h1v1h-1zM449 208h1v1h-1zM333 209h3v1h-3zM337 209h2v1h-2zM343 209h1v1h-1zM345 209h1v1h-1zM349 209h1v1h-1zM355 209h1v1h-1zM360 209h2v1h-2zM363 209h1v1h-1zM365 209h1v1h-1zM367 209h2v1h-2zM370 209h4v1h-4zM376 209h10v1h-10zM387 209h3v1h-3zM391 209h3v1h-3zM395 209h2v1h-2zM398 209h7v1h-7zM406 209h4v1h-4zM411 209h6v1h-6zM420 209h7v1h-7zM428 209h3v1h-3zM433 209h2v1h-2zM438 209h1v1h-1zM457 209h1v1h-1zM336 210h2v1h-2zM341 210h2v1h-2zM349 210h1v1h-1zM358 210h1v1h-1zM360 210h2v1h-2zM363 210h1v1h-1zM366 210h1v1h-1zM369 210h1v1h-1zM372 210h3v1h-3zM376 210h1v1h-1zM379 210h1v1h-1zM381 210h10v1h-10zM393 210h5v1h-5zM399 210h2v1h-2zM402 210h2v1h-2zM405 210h4v1h-4zM411 210h3v1h-3zM415 210h5v1h-5zM421 210h1v1h-1zM423 210h2v1h-2zM427 210h3v1h-3zM431 210h1v1h-1zM433 210h3v1h-3zM438 210h1v1h-1zM441 210h1v1h-1zM452 210h2v1h-2zM331 211h1v1h-1zM333 211h1v1h-1zM336 211h1v1h-1zM343 211h2v1h-2zM346 211h1v1h-1zM348 211h1v1h-1zM353 211h1v1h-1zM355 211h1v1h-1zM365 211h1v1h-1zM367 211h1v1h-1zM370 211h2v1h-2zM373 211h1v1h-1zM376 211h1v1h-1zM379 211h7v1h-7zM387 211h9v1h-9zM398 211h8v1h-8zM407 211h8v1h-8zM416 211h2v1h-2zM419 211h2v1h-2zM422 211h2v1h-2zM428 211h1v1h-1zM433 211h1v1h-1zM435 211h5v1h-5zM443 211h1v1h-1zM447 211h1v1h-1zM455 211h1v1h-1zM457 211h1v1h-1zM332 212h1v1h-1zM334 212h2v1h-2zM337 212h1v1h-1zM341 212h1v1h-1zM347 212h1v1h-1zM350 212h2v1h-2zM358 212h2v1h-2zM361 212h3v1h-3zM367 212h1v1h-1zM371 212h1v1h-1zM373 212h1v1h-1zM376 212h10v1h-10zM387 212h4v1h-4zM392 212h30v1h-30zM423 212h6v1h-6zM430 212h1v1h-1zM433 212h3v1h-3zM440 212h1v1h-1zM443 212h2v1h-2zM453 212h1v1h-1zM481 212h1v1h-1zM330 213h3v1h-3zM338 213h2v1h-2zM343 213h3v1h-3zM348 213h1v1h-1zM353 213h4v1h-4zM362 213h1v1h-1zM364 213h1v1h-1zM366 213h1v1h-1zM369 213h1v1h-1zM374 213h3v1h-3zM378 213h7v1h-7zM387 213h2v1h-2zM391 213h2v1h-2zM394 213h15v1h-15zM410 213h1v1h-1zM413 213h7v1h-7zM422 213h3v1h-3zM426 213h1v1h-1zM428 213h2v1h-2zM432 213h5v1h-5zM439 213h2v1h-2zM446 213h1v1h-1zM330 214h1v1h-1zM336 214h3v1h-3zM345 214h1v1h-1zM347 214h1v1h-1zM349 214h2v1h-2zM352 214h1v1h-1zM356 214h1v1h-1zM358 214h1v1h-1zM364 214h1v1h-1zM368 214h1v1h-1zM371 214h2v1h-2zM375 214h2v1h-2zM378 214h1v1h-1zM380 214h2v1h-2zM384 214h4v1h-4zM389 214h5v1h-5zM397 214h2v1h-2zM401 214h13v1h-13zM416 214h1v1h-1zM418 214h5v1h-5zM424 214h3v1h-3zM428 214h1v1h-1zM430 214h4v1h-4zM435 214h1v1h-1zM437 214h2v1h-2zM441 214h1v1h-1zM443 214h1v1h-1zM336 215h1v1h-1zM339 215h3v1h-3zM354 215h4v1h-4zM366 215h1v1h-1zM371 215h3v1h-3zM375 215h1v1h-1zM379 215h2v1h-2zM383 215h2v1h-2zM386 215h4v1h-4zM392 215h6v1h-6zM399 215h8v1h-8zM409 215h1v1h-1zM411 215h2v1h-2zM416 215h6v1h-6zM425 215h4v1h-4zM432 215h2v1h-2zM440 215h1v1h-1zM332 216h3v1h-3zM337 216h1v1h-1zM352 216h3v1h-3zM357 216h1v1h-1zM362 216h3v1h-3zM368 216h4v1h-4zM373 216h1v1h-1zM375 216h6v1h-6zM382 216h22v1h-22zM405 216h4v1h-4zM410 216h6v1h-6zM417 216h5v1h-5zM423 216h3v1h-3zM427 216h4v1h-4zM434 216h2v1h-2zM439 216h1v1h-1zM442 216h1v1h-1zM448 216h2v1h-2zM455 216h2v1h-2zM490 216h1v1h-1zM333 217h1v1h-1zM341 217h3v1h-3zM345 217h1v1h-1zM347 217h1v1h-1zM354 217h5v1h-5zM361 217h2v1h-2zM364 217h1v1h-1zM369 217h2v1h-2zM372 217h1v1h-1zM378 217h2v1h-2zM382 217h3v1h-3zM387 217h1v1h-1zM389 217h1v1h-1zM391 217h2v1h-2zM394 217h1v1h-1zM396 217h2v1h-2zM399 217h1v1h-1zM401 217h3v1h-3zM405 217h5v1h-5zM411 217h3v1h-3zM416 217h7v1h-7zM424 217h5v1h-5zM430 217h2v1h-2zM433 217h1v1h-1zM435 217h3v1h-3zM444 217h1v1h-1zM446 217h1v1h-1zM455 217h1v1h-1zM329 218h1v1h-1zM331 218h1v1h-1zM340 218h1v1h-1zM342 218h1v1h-1zM344 218h2v1h-2zM349 218h2v1h-2zM352 218h1v1h-1zM356 218h1v1h-1zM363 218h1v1h-1zM369 218h1v1h-1zM371 218h2v1h-2zM376 218h2v1h-2zM381 218h12v1h-12zM394 218h4v1h-4zM399 218h8v1h-8zM409 218h1v1h-1zM411 218h2v1h-2zM414 218h1v1h-1zM416 218h2v1h-2zM419 218h8v1h-8zM429 218h3v1h-3zM435 218h2v1h-2zM439 218h3v1h-3zM447 218h1v1h-1zM450 218h1v1h-1zM454 218h1v1h-1zM330 219h1v1h-1zM332 219h1v1h-1zM344 219h1v1h-1zM354 219h2v1h-2zM357 219h1v1h-1zM359 219h1v1h-1zM363 219h2v1h-2zM368 219h6v1h-6zM375 219h14v1h-14zM393 219h10v1h-10zM404 219h13v1h-13zM418 219h2v1h-2zM421 219h1v1h-1zM424 219h2v1h-2zM428 219h4v1h-4zM433 219h3v1h-3zM437 219h1v1h-1zM439 219h1v1h-1zM445 219h1v1h-1zM447 219h3v1h-3zM456 219h1v1h-1zM331 220h1v1h-1zM333 220h1v1h-1zM336 220h2v1h-2zM343 220h1v1h-1zM346 220h1v1h-1zM348 220h2v1h-2zM351 220h1v1h-1zM356 220h1v1h-1zM361 220h1v1h-1zM363 220h5v1h-5zM369 220h13v1h-13zM384 220h4v1h-4zM389 220h3v1h-3zM393 220h2v1h-2zM397 220h11v1h-11zM409 220h3v1h-3zM413 220h1v1h-1zM416 220h2v1h-2zM419 220h4v1h-4zM424 220h1v1h-1zM427 220h1v1h-1zM429 220h1v1h-1zM431 220h1v1h-1zM433 220h1v1h-1zM435 220h1v1h-1zM437 220h2v1h-2zM440 220h2v1h-2zM449 220h2v1h-2zM488 220h1v1h-1zM329 221h1v1h-1zM331 221h1v1h-1zM333 221h2v1h-2zM337 221h2v1h-2zM342 221h1v1h-1zM345 221h2v1h-2zM349 221h1v1h-1zM356 221h1v1h-1zM359 221h1v1h-1zM363 221h2v1h-2zM366 221h2v1h-2zM373 221h2v1h-2zM376 221h7v1h-7zM384 221h1v1h-1zM386 221h2v1h-2zM389 221h9v1h-9zM400 221h5v1h-5zM406 221h2v1h-2zM409 221h13v1h-13zM423 221h1v1h-1zM426 221h3v1h-3zM430 221h5v1h-5zM436 221h1v1h-1zM333 222h1v1h-1zM336 222h1v1h-1zM338 222h1v1h-1zM340 222h1v1h-1zM344 222h1v1h-1zM348 222h2v1h-2zM352 222h2v1h-2zM360 222h1v1h-1zM367 222h1v1h-1zM369 222h4v1h-4zM374 222h7v1h-7zM382 222h3v1h-3zM387 222h1v1h-1zM389 222h1v1h-1zM391 222h4v1h-4zM396 222h9v1h-9zM406 222h2v1h-2zM409 222h6v1h-6zM416 222h1v1h-1zM418 222h17v1h-17zM439 222h1v1h-1zM446 222h1v1h-1zM448 222h1v1h-1zM329 223h3v1h-3zM335 223h1v1h-1zM338 223h2v1h-2zM344 223h1v1h-1zM346 223h2v1h-2zM353 223h1v1h-1zM360 223h1v1h-1zM364 223h5v1h-5zM370 223h3v1h-3zM374 223h1v1h-1zM377 223h10v1h-10zM388 223h1v1h-1zM390 223h4v1h-4zM395 223h4v1h-4zM400 223h17v1h-17zM420 223h1v1h-1zM422 223h3v1h-3zM426 223h3v1h-3zM432 223h5v1h-5zM438 223h1v1h-1zM440 223h1v1h-1zM454 223h1v1h-1zM330 224h1v1h-1zM333 224h1v1h-1zM338 224h3v1h-3zM349 224h1v1h-1zM352 224h1v1h-1zM356 224h1v1h-1zM361 224h2v1h-2zM365 224h1v1h-1zM367 224h2v1h-2zM370 224h2v1h-2zM375 224h5v1h-5zM381 224h1v1h-1zM383 224h4v1h-4zM388 224h1v1h-1zM392 224h1v1h-1zM394 224h1v1h-1zM396 224h9v1h-9zM407 224h3v1h-3zM412 224h4v1h-4zM417 224h1v1h-1zM420 224h7v1h-7zM429 224h7v1h-7zM444 224h1v1h-1zM453 224h1v1h-1zM459 224h1v1h-1zM332 225h1v1h-1zM339 225h3v1h-3zM343 225h1v1h-1zM349 225h3v1h-3zM355 225h1v1h-1zM357 225h3v1h-3zM362 225h1v1h-1zM365 225h4v1h-4zM371 225h1v1h-1zM374 225h2v1h-2zM377 225h3v1h-3zM383 225h1v1h-1zM386 225h2v1h-2zM389 225h4v1h-4zM395 225h2v1h-2zM399 225h2v1h-2zM402 225h12v1h-12zM417 225h7v1h-7zM425 225h3v1h-3zM429 225h4v1h-4zM435 225h1v1h-1zM439 225h1v1h-1zM441 225h3v1h-3zM448 225h2v1h-2zM455 225h1v1h-1zM459 225h1v1h-1zM331 226h1v1h-1zM336 226h2v1h-2zM340 226h1v1h-1zM344 226h1v1h-1zM348 226h1v1h-1zM359 226h1v1h-1zM361 226h1v1h-1zM363 226h2v1h-2zM366 226h1v1h-1zM369 226h3v1h-3zM373 226h1v1h-1zM375 226h14v1h-14zM390 226h1v1h-1zM392 226h1v1h-1zM394 226h10v1h-10zM405 226h10v1h-10zM416 226h1v1h-1zM418 226h10v1h-10zM429 226h3v1h-3zM433 226h1v1h-1zM437 226h5v1h-5zM445 226h1v1h-1zM451 226h1v1h-1zM329 227h2v1h-2zM334 227h1v1h-1zM338 227h1v1h-1zM341 227h1v1h-1zM343 227h1v1h-1zM346 227h1v1h-1zM352 227h1v1h-1zM355 227h1v1h-1zM359 227h3v1h-3zM363 227h2v1h-2zM367 227h2v1h-2zM371 227h2v1h-2zM374 227h7v1h-7zM383 227h2v1h-2zM386 227h4v1h-4zM391 227h6v1h-6zM398 227h3v1h-3zM402 227h9v1h-9zM412 227h1v1h-1zM414 227h8v1h-8zM423 227h2v1h-2zM426 227h3v1h-3zM431 227h1v1h-1zM433 227h1v1h-1zM436 227h2v1h-2zM439 227h1v1h-1zM441 227h1v1h-1zM444 227h1v1h-1zM452 227h1v1h-1z" fill="#111"/>
<path d="M326.5 30.8V92.2H397.5M397.5 92.2L456.7 98.1L489 87.3L514 51.8" fill="none" stroke="#111" stroke-width="1.3"/><path d="M397.5 92.2L441.9 30.8" stroke="#111" stroke-width="1.7"/>
<text x="330.8" y="43.8" font-size="9">R1</text>
<text x="436.3" y="43.7" font-size="9">R2</text>
<rect x="290.8" y="30.65" width="223.45" height="198.6" fill="none" stroke="#111" stroke-width="1.2"/>
<path d="M290.8 229.25v3.6M299.48 229.25v2.2M308.15 229.25v2.2M316.83 229.25v2.2M325.5 229.25v2.2M334.18 229.25v3.6M342.86 229.25v2.2M351.53 229.25v2.2M360.21 229.25v2.2M368.88 229.25v2.2M377.56 229.25v3.6M386.24 229.25v2.2M394.91 229.25v2.2M403.59 229.25v2.2M412.26 229.25v2.2M420.94 229.25v3.6M429.62 229.25v2.2M438.29 229.25v2.2M446.97 229.25v2.2M455.64 229.25v2.2M464.32 229.25v3.6M473 229.25v2.2M481.67 229.25v2.2M490.35 229.25v2.2M499.02 229.25v2.2M507.7 229.25v3.6" stroke="#111" stroke-width="1" fill="none"/>
<text x="292" y="242" text-anchor="middle" font-size="8.8">0</text>
<text x="335.38" y="242" text-anchor="middle" font-size="8.8">200</text>
<text x="378.76" y="242" text-anchor="middle" font-size="8.8">400</text>
<text x="422.14" y="242" text-anchor="middle" font-size="8.8">600</text>
<text x="465.52" y="242" text-anchor="middle" font-size="8.8">800</text>
<text x="508.9" y="242" text-anchor="middle" font-size="8.8">1000</text>
<path d="M290.8 228.9h-3.6M290.8 221.19h-2.2M290.8 213.48h-2.2M290.8 205.78h-2.2M290.8 198.07h-2.2M290.8 190.36h-3.6M290.8 182.65h-2.2M290.8 174.94h-2.2M290.8 167.24h-2.2M290.8 159.53h-2.2M290.8 151.82h-3.6M290.8 144.11h-2.2M290.8 136.4h-2.2M290.8 128.7h-2.2M290.8 120.99h-2.2M290.8 113.28h-3.6M290.8 105.57h-2.2M290.8 97.86h-2.2M290.8 90.16h-2.2M290.8 82.45h-2.2M290.8 74.74h-3.6M290.8 67.03h-2.2M290.8 59.32h-2.2M290.8 51.62h-2.2M290.8 43.91h-2.2M290.8 36.2h-3.6" stroke="#111" stroke-width="1" fill="none"/>
<text transform="translate(284.6 226.9) rotate(-90)" text-anchor="middle" font-size="8.5">0</text>
<text transform="translate(284.6 188.36) rotate(-90)" text-anchor="middle" font-size="8.5">200</text>
<text transform="translate(284.6 149.82) rotate(-90)" text-anchor="middle" font-size="8.5">400</text>
<text transform="translate(284.6 111.28) rotate(-90)" text-anchor="middle" font-size="8.5">600</text>
<text transform="translate(284.6 72.74) rotate(-90)" text-anchor="middle" font-size="8.5">800</text>
<text transform="translate(284.6 34.2) rotate(-90)" text-anchor="middle" font-size="8.5">1000</text>
<text x="402.52" y="253.5" text-anchor="middle" font-size="9" font-weight="bold">FSC-height</text>
<text transform="translate(274.2 130.78) rotate(-90)" text-anchor="middle" font-size="9.2" font-weight="bold">Glycophorin PE</text>
<text x="265.6" y="17.6" font-size="24" font-weight="bold" style="fill:#000;stroke:#000;stroke-width:0.9px">D</text>
</svg>
</body></html>
